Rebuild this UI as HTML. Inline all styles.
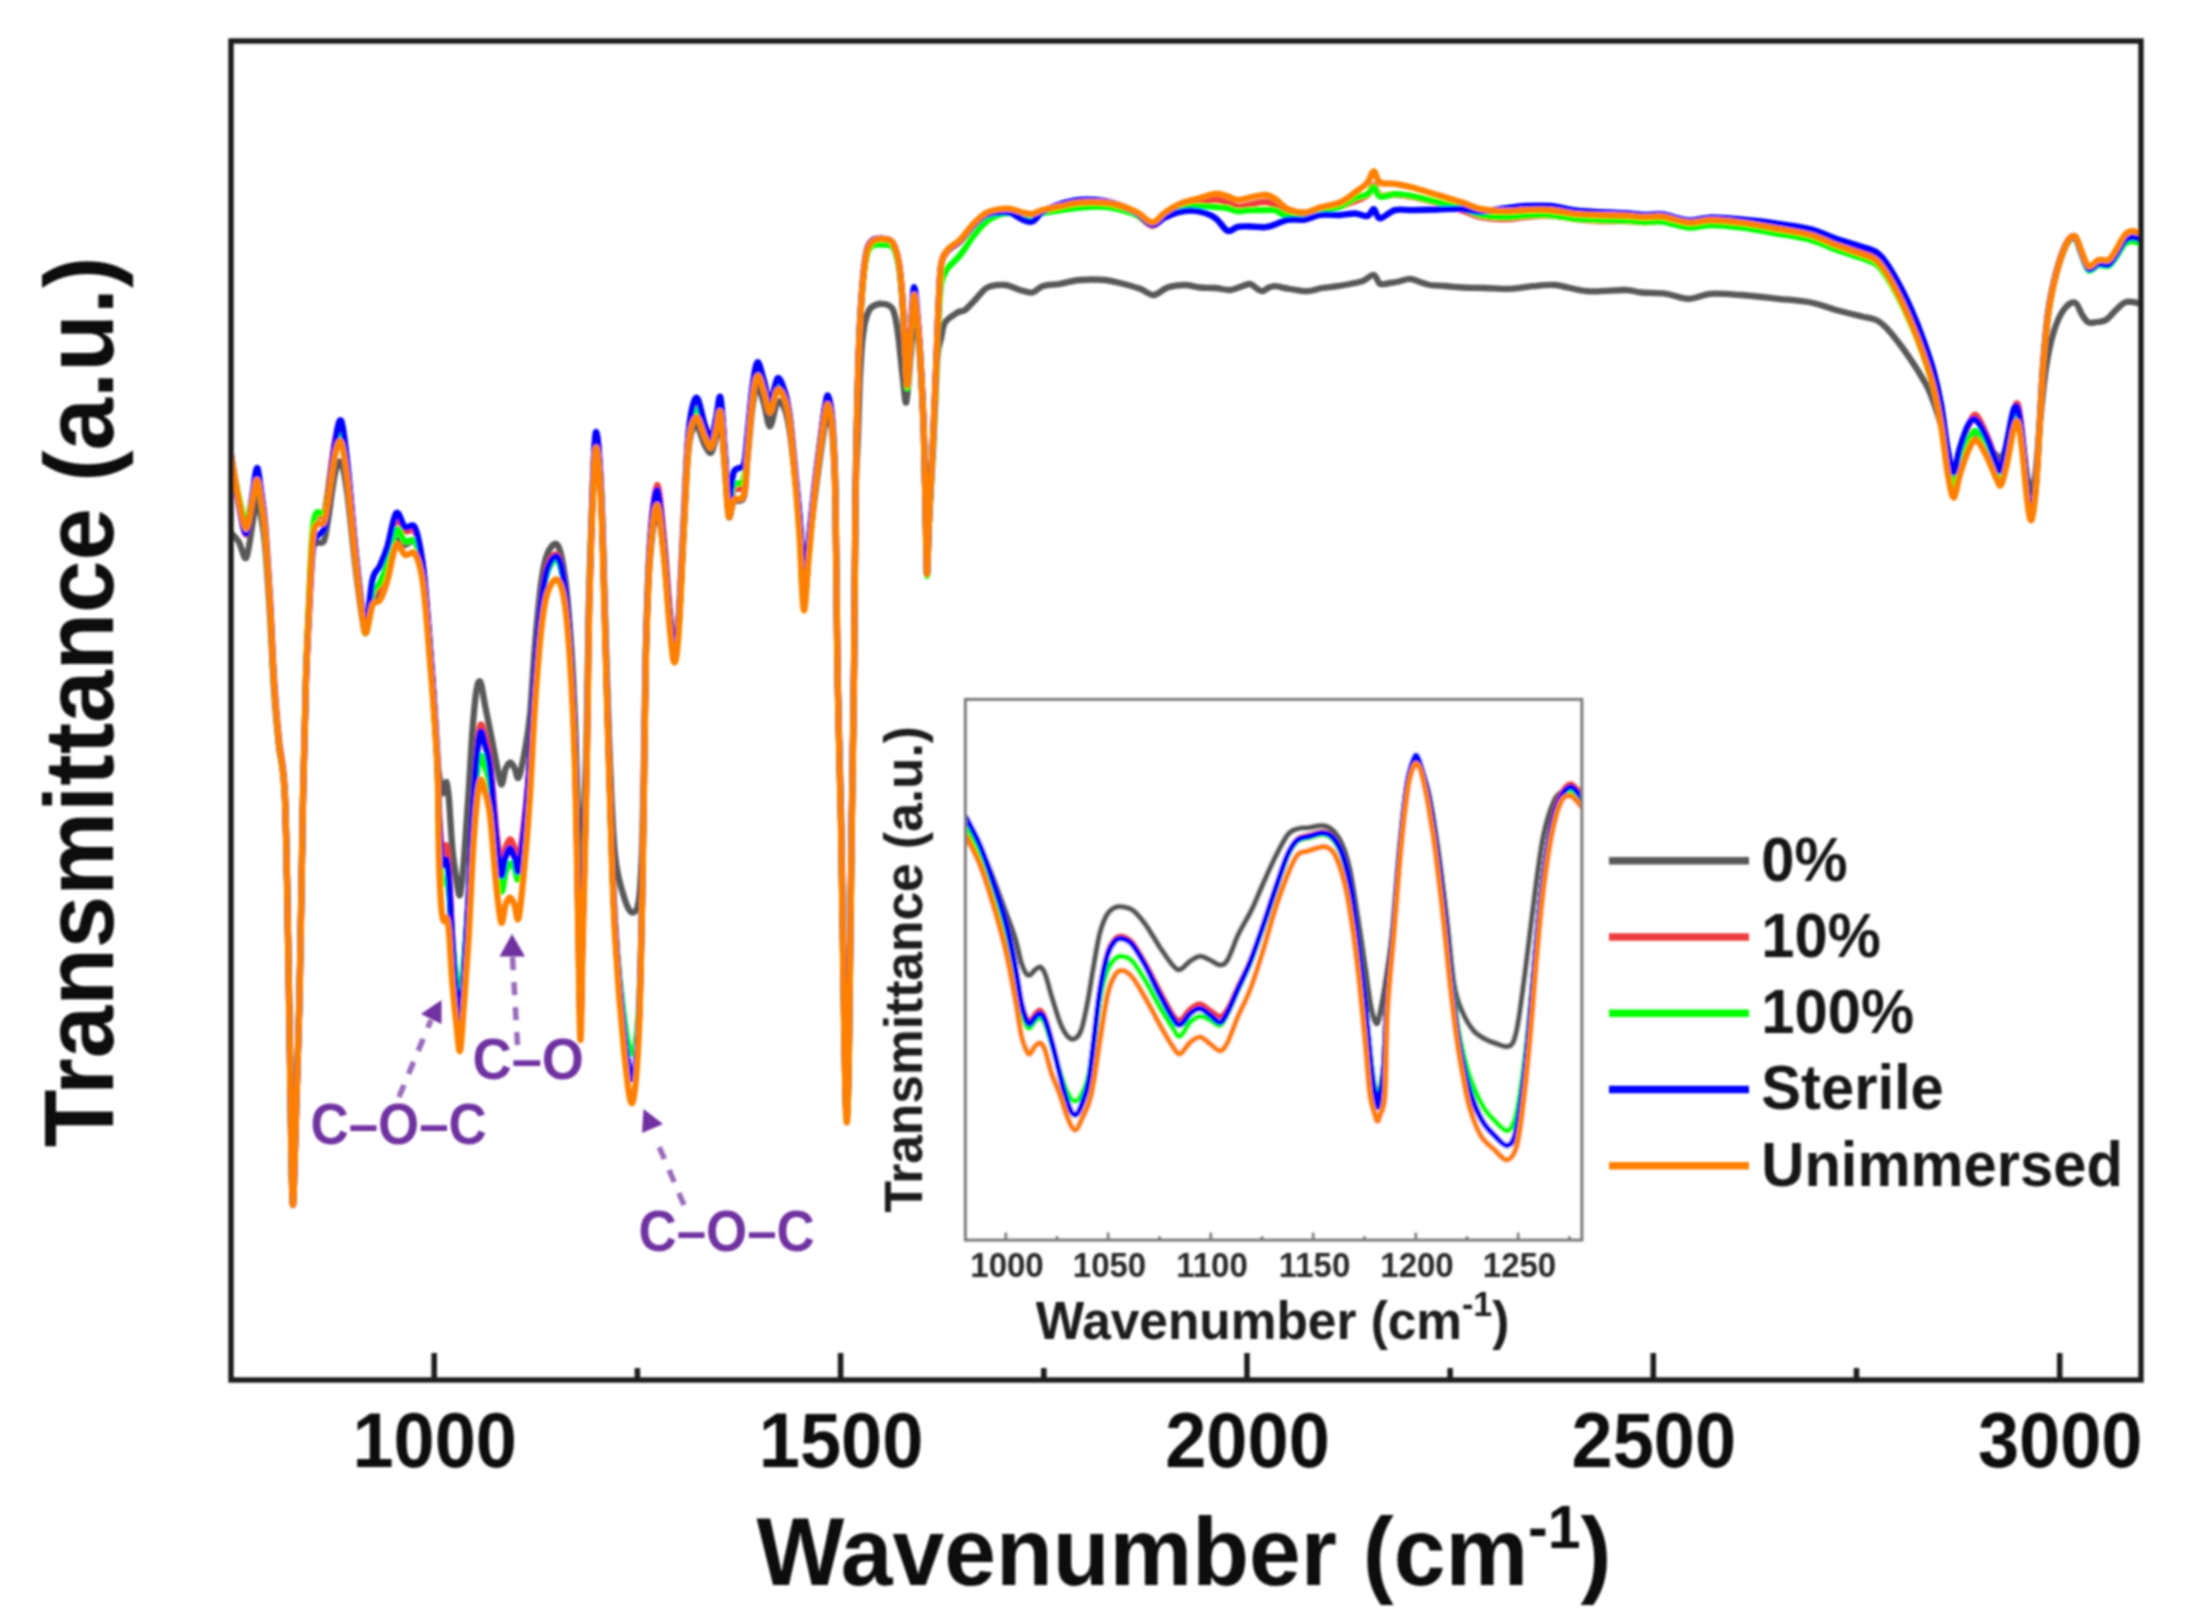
<!DOCTYPE html>
<html lang="en"><head><meta charset="utf-8"><title>FTIR spectra</title>
<style>html,body{margin:0;padding:0;background:#fff}svg{display:block}text{font-family:'Liberation Sans', Arial, Helvetica, sans-serif;font-weight:bold}</style></head><body>
<svg width="2188" height="1621" viewBox="0 0 2188 1621">
<defs><clipPath id="cm"><rect x="231" y="41" width="1910" height="1339"/></clipPath>
<clipPath id="ci"><rect x="965.5" y="699.5" width="616.25" height="540.5"/></clipPath>
<filter id="soft" x="-2%" y="-2%" width="104%" height="104%"><feGaussianBlur stdDeviation="1.0"/></filter></defs>
<rect width="2188" height="1621" fill="#fff"/>
<g filter="url(#soft)">
<g clip-path="url(#cm)" fill="none" stroke-width="6.3" stroke-linejoin="round" stroke-linecap="butt">
<path stroke="#595959" d="M231.0 533.0C232.3 534.5 236.2 537.6 238.8 541.8C241.3 545.9 244.0 560.8 246.2 557.8C248.5 554.7 250.7 533.4 252.5 523.4C254.3 513.4 255.6 499.2 257.0 498.0C258.4 496.8 259.7 508.3 261.0 516.0C262.3 523.7 263.5 527.5 265.0 544.0C266.5 560.5 268.5 591.2 270.0 615.0C271.5 638.8 272.3 665.4 273.8 687.0C275.2 708.6 276.9 726.4 278.8 744.5C280.6 762.6 283.3 756.7 285.0 795.3C286.7 834.0 287.7 920.0 288.8 976.3C289.8 1032.7 290.6 1099.6 291.3 1133.5C292.0 1167.4 292.4 1180.2 293.0 1180.0C293.6 1179.8 293.9 1163.7 295.0 1132.5C296.1 1101.3 298.2 1048.7 299.5 992.7C300.8 936.7 301.9 848.6 303.0 796.5C304.1 744.3 305.0 711.1 306.0 679.7C307.0 648.3 308.2 629.5 309.2 608.2C310.3 586.9 311.3 563.0 312.5 552.1C313.7 541.3 314.4 544.9 316.2 543.1C318.1 541.2 321.9 544.6 323.8 541.2C325.6 537.9 325.6 534.3 327.5 523.0C329.4 511.7 332.7 483.4 335.0 473.3C337.3 463.2 339.2 459.0 341.2 462.5C343.3 466.0 345.2 477.5 347.5 494.3C349.8 511.1 352.5 542.3 355.0 563.2C357.5 584.2 360.6 608.6 362.5 620.1C364.4 631.6 364.6 635.5 366.2 632.4C367.9 629.2 370.2 608.0 372.5 601.3C374.8 594.6 377.5 596.6 380.0 592.0C382.5 587.4 384.8 582.4 387.5 573.9C390.2 565.3 393.3 545.6 396.2 540.8C399.2 536.0 401.9 544.8 405.0 545.0C408.1 545.2 412.1 537.7 415.0 541.8C417.9 545.8 420.4 556.5 422.5 569.5C424.6 582.5 425.8 601.2 427.5 620.0C429.2 638.8 430.8 659.2 432.5 682.5C434.2 705.8 436.4 744.6 437.5 760.0C438.6 775.4 438.3 770.3 439.0 775.0C439.7 779.7 440.7 785.0 441.5 788.0C442.3 791.0 443.2 794.0 444.0 793.0C444.8 792.0 445.7 780.8 446.5 782.0C447.3 783.2 448.0 788.7 449.0 800.0C450.0 811.3 451.2 836.7 452.5 850.0C453.8 863.3 455.2 872.5 456.5 880.0C457.8 887.5 458.8 897.5 460.0 895.0C461.2 892.5 462.0 882.5 463.5 865.0C465.0 847.5 467.2 812.5 468.8 790.0C470.2 767.5 471.2 746.7 472.5 730.0C473.8 713.3 475.2 698.0 476.5 690.0C477.8 682.0 479.1 679.5 480.5 682.0C481.9 684.5 483.4 697.0 485.0 705.0C486.6 713.0 488.1 720.5 490.0 730.0C491.9 739.5 494.4 752.9 496.2 762.0C498.1 771.1 499.7 783.3 501.2 784.5C502.8 785.7 504.0 772.7 505.5 769.0C507.0 765.3 508.5 762.7 510.0 762.5C511.5 762.3 513.0 765.5 514.5 768.0C516.0 770.5 517.0 780.5 518.8 777.5C520.5 774.5 523.1 760.4 525.0 750.0C526.9 739.6 528.3 732.5 530.0 715.0C531.7 697.5 533.1 667.1 535.0 645.0C536.9 622.9 539.2 597.8 541.2 582.5C543.3 567.2 544.8 559.8 547.5 553.5C550.2 547.2 554.6 541.1 557.5 545.0C560.4 548.9 562.7 560.0 565.0 577.1C567.3 594.3 569.5 621.7 571.2 648.0C573.0 674.3 574.3 703.0 575.5 735.0C576.7 767.0 577.7 815.8 578.5 840.0C579.3 864.2 579.8 880.0 580.5 880.0C581.2 880.0 581.5 862.3 582.5 840.0C583.5 817.7 585.5 784.7 586.5 746.1C587.5 707.6 587.8 649.6 588.8 608.8C589.8 567.9 591.2 527.3 592.5 501.1C593.8 474.9 594.8 451.8 596.2 451.5C597.7 451.2 599.8 472.0 601.2 499.5C602.7 527.0 603.6 574.3 605.0 616.4C606.4 658.5 607.8 712.4 609.5 752.1C611.2 791.9 612.4 830.4 615.0 855.0C617.6 879.6 622.1 890.4 625.0 900.0C627.9 909.6 630.2 912.4 632.5 912.5C634.8 912.6 637.2 911.2 638.8 900.8C640.3 890.4 641.1 873.8 642.0 850.0C642.9 826.2 643.3 792.0 644.0 758.3C644.7 724.6 645.0 681.0 646.0 647.8C647.0 614.6 648.2 581.8 650.0 559.0C651.8 536.2 654.7 512.1 657.0 511.0C659.3 509.9 661.6 534.6 663.8 552.4C665.9 570.2 668.2 603.0 670.0 617.7C671.8 632.4 673.0 640.3 674.5 640.5C676.0 640.7 677.2 637.8 678.8 619.1C680.3 600.4 682.1 557.1 683.8 528.4C685.4 499.7 686.7 464.1 688.8 447.0C690.8 429.8 693.5 425.7 696.2 425.5C699.0 425.3 702.5 441.0 705.0 445.5C707.5 450.0 709.4 454.1 711.2 452.6C713.1 451.0 714.7 441.5 716.2 436.1C717.8 430.8 719.0 414.9 720.5 420.5C722.0 426.1 723.6 453.9 725.0 470.0C726.4 486.0 727.3 511.4 728.8 516.7C730.2 522.0 731.2 505.0 733.8 501.7C736.2 498.4 741.5 504.2 743.8 497.0C746.0 489.8 746.0 473.6 747.5 458.6C749.0 443.6 750.8 418.9 752.5 406.8C754.2 394.7 755.6 386.5 757.5 386.0C759.4 385.5 761.9 396.8 764.0 403.5C766.1 410.3 767.8 426.8 770.0 426.5C772.2 426.2 775.0 404.8 777.5 402.0C780.0 399.2 782.9 404.4 785.0 409.6C787.1 414.8 788.3 421.8 790.0 433.0C791.7 444.2 793.4 462.8 795.0 476.7C796.6 490.6 798.0 501.1 799.5 516.3C801.0 531.5 802.2 563.0 803.8 568.0C805.2 573.0 806.7 557.5 808.5 546.1C810.3 534.8 812.6 514.7 814.5 499.9C816.4 485.1 818.2 470.2 820.0 457.5C821.8 444.9 823.6 431.2 825.0 424.1C826.4 417.0 827.0 412.8 828.2 414.8C829.5 416.8 831.3 421.3 832.5 436.1C833.7 450.8 834.7 463.9 835.5 503.4C836.3 543.0 836.6 621.9 837.5 673.4C838.4 724.9 839.8 753.7 841.0 812.7C842.2 871.6 843.5 980.3 844.5 1026.9C845.5 1073.5 846.0 1092.2 846.8 1092.5C847.5 1092.8 848.2 1074.9 849.0 1028.5C849.8 982.0 850.9 873.2 851.8 813.9C852.6 754.5 853.4 724.2 854.0 672.3C854.6 620.5 854.9 541.7 855.5 503.0C856.1 464.3 857.1 459.7 857.8 440.0C858.5 420.3 859.0 400.0 859.6 385.0C860.2 370.0 860.9 359.0 861.5 350.0C862.1 341.0 862.7 336.5 863.5 331.0C864.3 325.5 865.2 320.9 866.5 317.0C867.8 313.1 868.6 309.7 871.2 307.5C873.9 305.3 879.0 303.5 882.5 303.8C886.0 304.0 890.0 304.4 892.5 308.8C895.0 313.1 895.8 319.0 897.5 330.0C899.2 341.0 901.0 362.9 902.5 375.0C904.0 387.1 905.0 404.6 906.2 402.5C907.5 400.4 908.7 376.9 910.0 362.5C911.3 348.1 912.9 320.6 914.2 316.0C915.6 311.4 917.0 326.8 918.0 335.0C919.0 343.2 919.5 348.3 920.5 365.0C921.5 381.7 922.9 409.2 923.8 435.0C924.6 460.8 925.2 497.8 925.8 520.0C926.3 542.2 926.5 568.0 927.0 568.0C927.5 568.0 928.0 539.7 929.0 520.0C930.0 500.3 931.9 470.8 933.0 450.0C934.1 429.2 934.8 410.8 935.5 395.0C936.2 379.2 936.5 364.6 937.5 355.0C938.5 345.4 940.0 342.9 941.2 337.5C942.5 332.1 942.3 326.7 945.0 322.5C947.7 318.3 954.2 314.6 957.5 312.5C960.8 310.4 962.1 312.1 965.0 310.0C967.9 307.9 971.2 303.8 975.0 300.0C978.8 296.2 982.5 290.0 987.5 287.5C992.5 285.0 999.6 284.6 1005.0 285.0C1010.4 285.4 1015.4 288.8 1020.0 290.0C1024.6 291.2 1028.8 293.1 1032.5 292.5C1036.2 291.9 1037.9 287.7 1042.5 286.2C1047.1 284.8 1053.8 284.8 1060.0 283.8C1066.2 282.7 1072.5 280.6 1080.0 280.0C1087.5 279.4 1097.9 279.4 1105.0 280.0C1112.1 280.6 1116.7 282.3 1122.5 283.8C1128.3 285.2 1134.8 286.9 1140.0 288.8C1145.2 290.6 1149.2 295.2 1153.8 295.0C1158.3 294.8 1162.3 289.2 1167.5 287.5C1172.7 285.8 1179.6 285.0 1185.0 285.0C1190.4 285.0 1195.0 287.0 1200.0 287.5C1205.0 288.0 1210.0 287.6 1215.0 288.0C1220.0 288.4 1225.8 290.2 1230.0 290.0C1234.2 289.8 1236.7 288.0 1240.0 287.0C1243.3 286.0 1247.3 283.8 1250.0 284.0C1252.7 284.2 1253.9 286.8 1256.0 288.0C1258.1 289.2 1260.5 291.2 1262.5 291.2C1264.5 291.2 1265.9 288.8 1268.0 288.0C1270.1 287.2 1271.3 286.1 1275.0 286.2C1278.7 286.4 1284.6 288.2 1290.0 289.0C1295.4 289.8 1302.2 291.4 1307.5 291.2C1312.8 291.1 1317.0 288.8 1322.0 288.0C1327.0 287.2 1332.8 286.9 1337.5 286.2C1342.2 285.6 1345.8 284.8 1350.0 284.0C1354.2 283.2 1358.5 282.8 1362.5 281.2C1366.5 279.8 1370.8 274.6 1373.8 275.0C1376.7 275.4 1377.3 282.4 1380.0 283.8C1382.7 285.1 1386.7 283.4 1390.0 283.0C1393.3 282.6 1396.7 282.0 1400.0 281.2C1403.3 280.5 1406.7 278.6 1410.0 278.8C1413.3 278.9 1416.7 281.0 1420.0 282.0C1423.3 283.0 1425.8 284.3 1430.0 285.0C1434.2 285.7 1439.6 285.6 1445.0 286.0C1450.4 286.4 1455.8 287.2 1462.5 287.5C1469.2 287.8 1477.1 287.8 1485.0 288.0C1492.9 288.2 1502.1 289.0 1510.0 288.8C1517.9 288.5 1525.0 286.9 1532.5 286.2C1540.0 285.6 1545.8 284.2 1555.0 285.0C1564.2 285.8 1575.8 290.4 1587.5 291.2C1599.2 292.1 1616.1 289.8 1625.0 290.0C1633.9 290.2 1634.2 291.9 1641.0 292.5C1647.8 293.1 1658.1 292.7 1666.0 293.8C1673.9 294.8 1681.0 298.8 1688.5 298.8C1696.0 298.8 1702.2 294.4 1711.0 293.8C1719.8 293.1 1729.8 294.2 1741.0 295.0C1752.2 295.8 1766.8 297.5 1778.5 298.8C1790.2 300.0 1801.4 300.6 1811.0 302.5C1820.6 304.4 1827.7 307.7 1836.0 310.0C1844.3 312.3 1854.3 314.6 1861.0 316.2C1867.7 317.9 1871.8 318.1 1876.0 320.0C1880.2 321.9 1882.2 323.8 1886.0 327.5C1889.8 331.2 1894.3 337.1 1898.5 342.5C1902.7 347.9 1906.8 353.8 1911.0 360.0C1915.2 366.2 1920.2 374.2 1923.5 380.0C1926.8 385.8 1928.1 387.5 1931.0 395.0C1933.9 402.5 1938.3 415.0 1941.0 425.0C1943.7 435.0 1945.2 447.2 1947.2 455.0C1949.3 462.8 1951.4 471.5 1953.5 472.0C1955.6 472.5 1957.5 463.0 1960.0 458.0C1962.5 453.0 1965.8 445.7 1968.5 442.0C1971.2 438.3 1973.1 435.5 1976.0 436.0C1978.9 436.5 1982.7 441.8 1986.0 445.0C1989.3 448.2 1993.5 452.8 1996.0 455.0C1998.5 457.2 1999.1 459.7 2001.0 458.0C2002.9 456.3 2005.2 450.0 2007.2 445.0C2009.3 440.0 2011.7 431.5 2013.5 428.0C2015.3 424.5 2016.5 422.0 2018.0 424.0C2019.5 426.0 2020.7 431.0 2022.2 440.0C2023.8 449.0 2025.7 469.3 2027.2 478.0C2028.8 486.7 2030.0 493.3 2031.5 492.0C2033.0 490.7 2034.6 481.2 2036.0 470.0C2037.4 458.8 2038.1 442.1 2039.8 425.0C2041.4 407.9 2043.7 382.9 2046.0 367.5C2048.3 352.1 2050.6 342.1 2053.5 332.5C2056.4 322.9 2060.0 315.0 2063.5 310.0C2067.0 305.0 2071.6 301.7 2074.8 302.5C2077.9 303.3 2080.0 311.7 2082.2 315.0C2084.5 318.3 2086.0 321.3 2088.5 322.5C2091.0 323.7 2094.1 322.4 2097.0 322.0C2099.9 321.6 2102.8 322.0 2106.0 320.0C2109.2 318.0 2112.9 312.9 2116.0 310.0C2119.1 307.1 2121.9 303.8 2124.8 302.5C2127.6 301.2 2130.3 301.8 2133.0 302.0C2135.7 302.2 2139.7 303.5 2141.0 303.8"/>
<path stroke="#f03c3c" d="M231.0 457.0C232.3 464.8 236.2 491.2 238.8 504.1C241.3 517.0 244.0 535.5 246.2 534.4C248.5 533.4 250.7 508.1 252.5 497.7C254.3 487.3 255.6 472.8 257.0 472.0C258.4 471.2 259.7 484.2 261.0 492.7C262.3 501.3 263.5 505.7 265.0 523.5C266.5 541.3 268.5 574.1 270.0 599.4C271.5 624.7 272.3 651.9 273.8 675.1C275.2 698.3 276.9 718.2 278.8 738.5C280.6 758.9 283.3 756.5 285.0 797.2C286.7 837.9 287.7 924.4 288.8 982.9C289.8 1041.4 290.6 1111.6 291.3 1148.4C292.0 1185.2 292.4 1203.6 293.0 1203.7C293.6 1203.8 293.9 1183.0 295.0 1149.1C296.1 1115.1 298.2 1058.3 299.5 999.9C300.8 941.5 301.9 852.5 303.0 798.8C304.1 745.1 305.0 710.6 306.0 677.7C307.0 644.8 308.2 624.7 309.2 601.4C310.3 578.1 311.3 551.4 312.5 537.6C313.7 523.8 314.4 522.7 316.2 518.7C318.1 514.6 321.9 517.3 323.8 513.2C325.6 509.2 325.6 506.2 327.5 494.3C329.4 482.3 332.7 452.6 335.0 441.3C337.3 430.1 339.2 422.3 341.2 426.6C343.3 431.0 345.2 447.4 347.5 467.4C349.8 487.3 352.5 522.1 355.0 546.3C357.5 570.5 360.6 598.8 362.5 612.7C364.4 626.5 364.6 631.9 366.2 629.3C367.9 626.7 370.2 604.2 372.5 597.0C374.8 589.8 377.5 592.4 380.0 586.3C382.5 580.2 384.8 571.7 387.5 560.5C390.2 549.3 393.3 524.0 396.2 519.1C399.2 514.1 401.9 528.8 405.0 530.9C408.1 533.0 412.1 526.5 415.0 531.8C417.9 537.0 420.4 548.7 422.5 562.7C424.6 576.7 425.8 596.0 427.5 615.8C429.2 635.6 430.8 657.0 432.5 681.4C434.2 705.8 436.4 740.2 437.5 762.0C438.6 783.8 438.3 798.0 439.0 812.0C439.7 826.0 440.7 839.5 441.5 846.0C442.3 852.5 443.2 851.0 444.0 851.0C444.8 851.0 445.7 842.8 446.5 846.0C447.3 849.2 448.0 854.2 449.0 870.0C450.0 885.8 451.2 920.2 452.5 941.0C453.8 961.8 455.2 980.8 456.5 995.0C457.8 1009.2 458.8 1028.4 460.0 1026.0C461.2 1023.6 462.0 1002.5 463.5 980.6C465.0 958.8 467.2 922.8 468.8 895.0C470.2 867.2 471.2 837.6 472.5 814.0C473.8 790.4 475.2 768.5 476.5 753.6C477.8 738.8 479.1 727.8 480.5 725.0C481.9 722.2 483.4 731.2 485.0 737.0C486.6 742.8 488.1 744.6 490.0 760.0C491.9 775.4 494.4 811.7 496.2 829.4C498.1 847.2 499.7 863.3 501.2 866.4C502.8 869.5 504.0 852.5 505.5 848.0C507.0 843.5 508.5 839.6 510.0 839.5C511.5 839.4 513.0 844.0 514.5 847.5C516.0 851.0 517.0 866.0 518.8 860.5C520.5 854.9 523.1 831.4 525.0 814.2C526.9 797.1 528.3 780.7 530.0 757.5C531.7 734.3 533.1 701.0 535.0 675.0C536.9 649.0 539.2 619.7 541.2 601.4C543.3 583.1 544.8 573.0 547.5 565.3C550.2 557.7 554.6 551.7 557.5 555.5C560.4 559.3 562.7 569.5 565.0 588.0C567.3 606.5 569.5 636.8 571.2 666.6C573.0 696.5 574.3 723.3 575.5 767.0C576.7 810.6 577.7 886.9 578.5 928.6C579.3 970.4 579.8 1017.4 580.5 1017.8C581.2 1018.1 581.5 971.8 582.5 930.8C583.5 889.8 585.5 823.5 586.5 771.8C587.5 720.0 587.8 666.3 588.8 620.1C589.8 573.9 591.2 525.6 592.5 494.5C593.8 463.4 594.8 434.0 596.2 433.6C597.7 433.2 599.8 461.4 601.2 492.1C602.7 522.8 603.6 570.9 605.0 617.9C606.4 664.9 607.8 722.7 609.5 773.8C611.2 825.0 612.4 880.4 615.0 925.0C617.6 969.6 622.1 1015.6 625.0 1041.2C627.9 1066.8 630.2 1081.4 632.5 1078.5C634.8 1075.6 637.2 1052.4 638.8 1023.5C640.3 994.6 641.1 945.9 642.0 905.0C642.9 864.1 643.3 821.2 644.0 778.0C644.7 734.8 645.0 685.3 646.0 646.0C647.0 606.7 648.2 568.8 650.0 542.0C651.8 515.2 654.7 485.8 657.0 485.0C659.3 484.2 661.6 515.6 663.8 537.0C665.9 558.5 668.2 595.5 670.0 613.9C671.8 632.4 673.0 647.4 674.5 647.8C676.0 648.2 677.2 638.2 678.8 616.6C680.3 595.0 682.1 548.9 683.8 518.1C685.4 487.4 686.7 450.6 688.8 432.1C690.8 413.7 693.5 408.3 696.2 407.5C699.0 406.7 702.5 422.5 705.0 427.5C707.5 432.5 709.4 438.8 711.2 437.5C713.1 436.2 714.7 425.8 716.2 420.0C717.8 414.2 719.0 396.2 720.5 402.5C722.0 408.8 723.6 440.2 725.0 457.5C726.4 474.8 727.3 500.8 728.8 506.2C730.2 511.7 731.2 493.5 733.8 490.0C736.2 486.5 741.5 492.5 743.8 485.0C746.0 477.5 746.0 460.8 747.5 445.0C749.0 429.2 750.8 403.2 752.5 390.0C754.2 376.8 755.6 367.3 757.5 366.1C759.4 364.8 761.9 376.4 764.0 382.7C766.1 389.0 767.8 404.0 770.0 403.9C772.2 403.8 775.0 384.0 777.5 382.2C780.0 380.3 782.9 386.9 785.0 392.9C787.1 399.0 788.3 405.3 790.0 418.5C791.7 431.6 793.4 454.9 795.0 472.0C796.6 489.1 798.0 501.6 799.5 521.0C801.0 540.4 802.2 584.1 803.8 588.4C805.2 592.8 806.7 563.6 808.5 547.0C810.3 530.4 812.6 506.0 814.5 488.7C816.4 471.4 818.2 456.6 820.0 443.0C821.8 429.4 823.6 415.0 825.0 407.4C826.4 399.7 827.0 394.5 828.2 397.0C829.5 399.6 831.3 406.7 832.5 422.7C833.7 438.7 834.7 452.2 835.5 493.2C836.3 534.1 836.6 614.2 837.5 668.5C838.4 722.8 839.8 756.3 841.0 819.0C842.2 881.7 843.5 994.8 844.5 1044.5C845.5 1094.3 846.0 1117.3 846.8 1117.4C847.5 1117.5 848.2 1094.7 849.0 1045.2C849.8 995.8 850.9 883.0 851.8 820.7C852.6 758.3 853.4 725.1 854.0 671.0C854.6 616.9 854.9 542.0 855.5 496.2C856.1 450.5 856.8 425.6 857.5 396.5C858.2 367.5 858.8 344.6 860.0 321.9C861.2 299.2 863.1 273.7 865.0 260.2C866.9 246.7 868.3 244.7 871.2 241.2C874.2 237.6 879.0 238.5 882.5 238.8C886.0 239.1 889.8 238.7 892.5 242.7C895.2 246.7 897.1 253.2 898.8 262.8C900.4 272.4 901.5 285.8 902.5 300.4C903.5 315.0 904.2 336.2 905.0 350.4C905.8 364.6 906.5 389.6 907.5 385.5C908.5 381.3 910.1 340.5 911.2 325.5C912.4 310.5 913.1 295.6 914.2 295.6C915.4 295.6 917.0 314.8 918.0 325.6C919.0 336.5 919.5 343.2 920.5 360.7C921.5 378.2 922.9 404.0 923.8 430.7C924.6 457.4 925.2 496.8 925.8 520.8C926.3 544.8 926.5 574.8 927.0 574.8C927.5 574.8 928.0 543.1 929.0 520.8C930.0 498.5 931.8 466.7 933.0 440.9C934.2 415.1 935.3 389.3 936.2 365.9C937.2 342.6 937.9 317.8 938.8 301.0C939.6 284.2 939.8 273.3 941.2 265.0C942.7 256.8 944.4 255.1 947.5 251.2C950.6 247.4 955.8 245.7 960.0 241.7C964.2 237.6 968.3 231.3 972.5 227.1C976.7 222.8 980.8 218.7 985.0 216.2C989.2 213.8 993.3 213.2 997.5 212.4C1001.7 211.6 1005.8 211.2 1010.0 211.7C1014.2 212.1 1018.8 214.5 1022.5 215.3C1026.2 216.1 1029.2 216.9 1032.5 216.4C1035.8 216.0 1037.9 213.9 1042.5 212.6C1047.1 211.3 1053.8 210.0 1060.0 208.7C1066.2 207.3 1072.5 205.4 1080.0 204.7C1087.5 204.0 1097.9 203.9 1105.0 204.6C1112.1 205.3 1117.1 207.0 1122.5 208.8C1127.9 210.6 1132.5 212.6 1137.5 215.4C1142.5 218.3 1147.9 225.7 1152.5 225.8C1157.1 225.9 1160.4 219.1 1165.0 216.1C1169.6 213.1 1174.6 209.8 1180.0 207.8C1185.4 205.7 1191.7 205.1 1197.5 203.8C1203.3 202.4 1210.0 199.9 1215.0 199.8C1220.0 199.6 1223.8 201.6 1227.5 202.8C1231.2 203.9 1233.8 206.6 1237.5 206.9C1241.2 207.2 1245.4 205.3 1250.0 204.5C1254.6 203.7 1260.8 201.9 1265.0 202.0C1269.2 202.1 1271.2 203.1 1275.0 205.0C1278.8 206.9 1282.5 211.2 1287.5 213.1C1292.5 215.0 1299.6 216.8 1305.0 216.5C1310.4 216.2 1314.2 213.2 1320.0 211.5C1325.8 209.8 1334.2 208.2 1340.0 206.5C1345.8 204.8 1350.4 203.1 1355.0 201.2C1359.6 199.3 1364.4 197.8 1367.5 195.1C1370.6 192.4 1371.7 185.0 1373.8 185.0C1375.8 185.0 1376.5 193.8 1380.0 195.4C1383.5 196.9 1389.6 194.2 1395.0 194.5C1400.4 194.7 1405.4 195.4 1412.5 196.9C1419.6 198.3 1429.2 200.9 1437.5 203.1C1445.8 205.4 1455.4 208.2 1462.5 210.5C1469.6 212.8 1472.9 215.3 1480.0 216.8C1487.1 218.2 1497.5 219.2 1505.0 219.2C1512.5 219.3 1517.5 217.7 1525.0 217.1C1532.5 216.5 1541.7 215.3 1550.0 215.6C1558.3 215.9 1566.7 218.2 1575.0 219.1C1583.3 220.0 1591.7 220.7 1600.0 221.0C1608.3 221.3 1617.5 220.8 1625.0 221.0C1632.5 221.2 1638.8 222.1 1645.0 222.1C1651.2 222.1 1655.2 220.5 1662.5 221.2C1669.8 222.0 1680.4 226.3 1688.5 226.7C1696.6 227.2 1702.2 224.0 1711.0 223.8C1719.8 223.6 1729.8 224.4 1741.0 225.7C1752.2 226.9 1766.8 229.4 1778.5 231.2C1790.2 233.0 1801.4 234.1 1811.0 236.3C1820.6 238.6 1827.7 242.2 1836.0 244.8C1844.3 247.5 1854.3 250.0 1861.0 252.1C1867.7 254.2 1871.8 254.6 1876.0 257.4C1880.2 260.3 1882.2 263.7 1886.0 269.3C1889.8 274.9 1894.3 283.5 1898.5 291.1C1902.7 298.7 1906.8 306.1 1911.0 314.8C1915.2 323.4 1919.8 333.5 1923.5 343.0C1927.2 352.6 1930.6 361.4 1933.5 372.1C1936.4 382.8 1938.7 394.1 1941.0 407.1C1943.3 420.0 1945.2 438.6 1947.2 450.0C1949.3 461.3 1951.4 475.1 1953.5 475.4C1955.6 475.8 1957.2 460.4 1959.8 452.1C1962.2 443.9 1965.8 432.2 1968.5 426.0C1971.2 419.8 1973.1 413.7 1976.0 415.0C1978.9 416.3 1982.7 426.2 1986.0 433.6C1989.3 441.1 1993.5 453.8 1996.0 459.7C1998.5 465.6 1999.1 471.3 2001.0 469.0C2002.9 466.7 2005.2 455.2 2007.2 445.8C2009.3 436.4 2011.7 419.4 2013.5 412.5C2015.3 405.7 2016.5 400.5 2018.0 404.5C2019.5 408.5 2020.7 421.8 2022.2 436.2C2023.8 450.7 2025.7 478.1 2027.2 491.2C2028.8 504.4 2030.0 516.4 2031.5 515.1C2033.0 513.7 2034.6 498.7 2036.0 483.1C2037.4 467.4 2038.5 441.7 2039.8 421.0C2041.0 400.3 2042.0 377.5 2043.5 358.9C2045.0 340.3 2046.4 323.8 2048.5 309.5C2050.6 295.1 2053.1 283.8 2056.0 272.8C2058.9 261.9 2062.9 250.1 2066.0 244.0C2069.1 237.9 2072.2 235.1 2074.8 236.2C2077.2 237.3 2078.7 245.4 2081.0 250.7C2083.3 256.0 2085.6 265.9 2088.5 267.9C2091.4 269.9 2095.2 263.5 2098.5 262.8C2101.8 262.2 2105.6 265.4 2108.5 264.1C2111.4 262.7 2113.3 258.8 2116.0 255.0C2118.7 251.1 2122.0 243.8 2124.8 241.0C2127.5 238.2 2129.5 238.1 2132.2 238.2C2135.0 238.3 2139.5 241.2 2141.0 241.8"/>
<path stroke="#00ff00" d="M231.0 458.0C232.3 464.6 236.2 486.8 238.8 497.3C241.3 507.8 244.0 521.0 246.2 520.9C248.5 520.8 250.7 503.5 252.5 496.7C254.3 489.9 255.6 479.4 257.0 480.0C258.4 480.6 259.7 491.9 261.0 500.3C262.3 508.8 263.5 513.1 265.0 530.7C266.5 548.3 268.5 581.0 270.0 606.1C271.5 631.3 272.3 658.4 273.8 681.5C275.2 704.5 276.9 724.5 278.8 744.4C280.6 764.3 283.3 760.8 285.0 800.9C286.7 841.0 287.7 927.0 288.8 985.1C289.8 1043.2 290.6 1113.0 291.3 1149.5C292.0 1186.1 292.4 1204.3 293.0 1204.2C293.6 1204.0 293.9 1183.1 295.0 1148.7C296.1 1114.3 298.2 1056.4 299.5 997.8C300.8 939.1 301.9 850.8 303.0 797.0C304.1 743.2 305.0 708.1 306.0 674.9C307.0 641.7 308.2 621.3 309.2 597.6C310.3 574.0 311.3 546.9 312.5 532.9C313.7 518.8 314.4 516.4 316.2 513.1C318.1 509.9 321.9 515.3 323.8 513.2C325.6 511.1 325.6 511.3 327.5 500.4C329.4 489.5 332.7 459.1 335.0 447.8C337.3 436.5 339.2 428.4 341.2 432.6C343.3 436.8 345.2 453.1 347.5 472.8C349.8 492.5 352.5 527.1 355.0 551.0C357.5 574.9 360.6 602.7 362.5 616.2C364.4 629.7 364.6 635.9 366.2 632.0C367.9 628.2 370.2 601.5 372.5 593.3C374.8 585.1 377.5 587.5 380.0 582.6C382.5 577.7 384.8 572.5 387.5 563.7C390.2 555.0 393.3 533.8 396.2 530.0C399.2 526.3 401.9 539.5 405.0 541.4C408.1 543.4 412.1 536.7 415.0 541.8C417.9 546.8 420.4 557.8 422.5 571.5C424.6 585.2 425.8 604.5 427.5 623.8C429.2 643.2 430.8 664.0 432.5 687.5C434.2 711.0 436.4 739.9 437.5 765.0C438.6 790.1 438.3 819.5 439.0 838.0C439.7 856.5 440.7 868.5 441.5 876.0C442.3 883.5 443.2 882.3 444.0 883.0C444.8 883.7 445.7 878.2 446.5 880.0C447.3 881.8 448.0 883.5 449.0 894.0C450.0 904.5 451.2 928.7 452.5 943.0C453.8 957.3 455.2 969.8 456.5 980.0C457.8 990.2 458.8 1006.1 460.0 1004.0C461.2 1001.9 462.0 984.5 463.5 967.4C465.0 950.2 467.2 923.9 468.8 901.0C470.2 878.1 471.2 850.6 472.5 830.2C473.8 809.8 475.2 791.2 476.5 778.8C477.8 766.5 479.1 758.0 480.5 756.0C481.9 754.0 483.4 761.2 485.0 766.6C486.6 771.9 488.1 773.1 490.0 788.0C491.9 802.9 494.4 838.5 496.2 855.7C498.1 873.0 499.7 888.6 501.2 891.4C502.8 894.2 504.0 877.2 505.5 872.5C507.0 867.8 508.5 864.2 510.0 863.5C511.5 862.8 513.0 865.6 514.5 868.0C516.0 870.4 517.0 884.4 518.8 877.7C520.5 870.9 523.1 845.8 525.0 827.5C526.9 809.2 528.3 792.1 530.0 768.0C531.7 743.9 533.1 709.6 535.0 683.0C536.9 656.4 539.2 627.1 541.2 608.6C543.3 590.0 544.8 579.7 547.5 571.6C550.2 563.6 554.6 557.1 557.5 560.4C560.4 563.6 562.7 573.4 565.0 591.2C567.3 608.9 569.5 638.5 571.2 666.9C573.0 695.2 574.3 719.3 575.5 761.2C576.7 803.2 577.7 877.9 578.5 918.8C579.3 959.6 579.8 1005.9 580.5 1006.4C581.2 1006.9 581.5 961.5 582.5 921.8C583.5 882.0 585.5 818.1 586.5 767.5C587.5 717.0 587.8 663.7 588.8 618.6C589.8 573.5 591.2 526.9 592.5 497.0C593.8 467.1 594.8 439.6 596.2 439.5C597.7 439.4 599.8 466.2 601.2 496.4C602.7 526.7 603.6 574.5 605.0 621.1C606.4 667.6 607.8 724.9 609.5 775.6C611.2 826.2 612.4 883.4 615.0 925.0C617.6 966.6 622.1 1003.6 625.0 1025.0C627.9 1046.4 630.2 1055.8 632.5 1053.2C634.8 1050.7 637.2 1034.4 638.8 1009.7C640.3 985.0 641.1 943.3 642.0 905.0C642.9 866.7 643.3 822.2 644.0 779.6C644.7 737.0 645.0 687.7 646.0 649.2C647.0 610.7 648.2 573.8 650.0 548.4C651.8 523.0 654.7 497.0 657.0 497.0C659.3 497.0 661.6 527.2 663.8 548.5C665.9 569.8 668.2 606.5 670.0 624.8C671.8 643.1 673.0 658.0 674.5 658.3C676.0 658.6 677.2 648.8 678.8 626.7C680.3 604.6 682.1 557.5 683.8 525.8C685.4 494.2 686.7 456.2 688.8 436.8C690.8 417.4 693.5 410.7 696.2 409.5C699.0 408.3 702.5 424.5 705.0 429.5C707.5 434.5 709.4 440.8 711.2 439.5C713.1 438.2 714.7 427.9 716.2 422.0C717.8 416.1 719.0 398.4 720.5 404.2C722.0 410.1 723.6 440.4 725.0 457.0C726.4 473.6 727.3 499.2 728.8 503.9C730.2 508.6 731.2 489.2 733.8 485.1C736.2 481.1 741.5 486.8 743.8 479.6C746.0 472.5 746.0 457.1 747.5 442.3C749.0 427.5 750.8 402.9 752.5 390.8C754.2 378.8 755.6 370.8 757.5 370.0C759.4 369.3 761.9 380.3 764.0 386.5C766.1 392.7 767.8 407.6 770.0 407.4C772.2 407.2 775.0 387.3 777.5 385.4C780.0 383.5 782.9 390.0 785.0 396.0C787.1 401.9 788.3 408.2 790.0 421.3C791.7 434.4 793.4 456.2 795.0 474.7C796.6 493.1 798.0 509.9 799.5 532.0C801.0 554.0 802.2 602.7 803.8 606.8C805.2 610.9 806.7 575.9 808.5 556.6C810.3 537.4 812.6 509.8 814.5 491.4C816.4 473.0 818.2 459.5 820.0 446.1C821.8 432.7 823.6 418.5 825.0 410.9C826.4 403.4 827.0 398.3 828.2 400.8C829.5 403.2 831.3 409.8 832.5 425.6C833.7 441.4 834.7 454.7 835.5 495.5C836.3 536.3 836.6 616.2 837.5 670.4C838.4 724.5 839.8 757.8 841.0 820.2C842.2 882.7 843.5 995.5 844.5 1045.1C845.5 1094.7 846.0 1117.6 846.8 1117.8C847.5 1118.0 848.2 1095.4 849.0 1046.1C849.8 996.9 850.9 884.3 851.8 822.2C852.6 760.0 853.4 726.9 854.0 673.0C854.6 619.1 854.9 544.2 855.5 498.6C856.1 452.9 856.8 428.2 857.5 399.3C858.2 370.4 858.8 347.7 860.0 325.2C861.2 302.8 863.1 277.7 865.0 264.6C866.9 251.5 868.3 250.0 871.2 246.7C874.2 243.4 879.0 244.6 882.5 244.7C886.0 244.7 889.8 243.3 892.5 246.9C895.2 250.5 897.1 256.7 898.8 266.1C900.4 275.5 901.5 288.7 902.5 303.2C903.5 317.7 904.2 338.9 905.0 352.9C905.8 367.0 906.5 392.0 907.5 387.7C908.5 383.4 910.1 342.4 911.2 327.3C912.4 312.2 913.1 297.0 914.2 297.0C915.4 297.0 917.0 316.2 918.0 327.0C919.0 337.8 919.5 344.5 920.5 362.0C921.5 379.5 922.9 405.3 923.8 432.0C924.6 458.7 925.2 498.0 925.8 522.0C926.3 546.0 926.5 576.0 927.0 576.0C927.5 576.0 928.0 543.6 929.0 522.0C930.0 500.4 931.8 470.8 933.0 446.5C934.2 422.2 935.3 398.3 936.2 376.4C937.2 354.5 937.9 330.7 938.8 315.1C939.6 299.5 939.8 290.6 941.2 282.9C942.7 275.1 944.4 273.2 947.5 268.6C950.6 264.0 955.8 260.6 960.0 255.3C964.2 250.1 968.3 242.6 972.5 237.1C976.7 231.7 980.8 226.4 985.0 222.8C989.2 219.1 993.3 216.8 997.5 215.2C1001.7 213.6 1005.8 213.0 1010.0 213.2C1014.2 213.5 1018.8 215.7 1022.5 216.4C1026.2 217.0 1029.2 217.7 1032.5 217.1C1035.8 216.6 1037.9 214.3 1042.5 213.1C1047.1 212.0 1053.8 211.2 1060.0 210.2C1066.2 209.3 1072.5 208.1 1080.0 207.5C1087.5 206.9 1097.9 206.4 1105.0 206.9C1112.1 207.3 1117.1 208.7 1122.5 210.1C1127.9 211.5 1132.5 213.0 1137.5 215.4C1142.5 217.8 1147.9 224.5 1152.5 224.5C1157.1 224.5 1160.4 218.2 1165.0 215.4C1169.6 212.6 1174.6 209.3 1180.0 207.8C1185.4 206.2 1191.7 206.4 1197.5 206.2C1203.3 206.1 1210.0 206.4 1215.0 206.8C1220.0 207.1 1223.8 207.5 1227.5 208.2C1231.2 209.0 1233.8 210.9 1237.5 211.2C1241.2 211.5 1245.4 210.3 1250.0 210.1C1254.6 209.9 1260.8 210.0 1265.0 210.0C1269.2 210.0 1271.2 209.2 1275.0 210.2C1278.8 211.3 1282.5 215.2 1287.5 216.2C1292.5 217.3 1299.6 217.4 1305.0 216.5C1310.4 215.6 1314.2 212.5 1320.0 210.8C1325.8 209.2 1334.2 208.6 1340.0 206.5C1345.8 204.4 1350.4 200.0 1355.0 198.0C1359.6 196.0 1364.4 196.1 1367.5 194.3C1370.6 192.4 1371.7 186.7 1373.8 187.0C1375.8 187.4 1376.5 195.3 1380.0 196.5C1383.5 197.7 1389.6 194.3 1395.0 194.2C1400.4 194.2 1405.4 194.9 1412.5 196.2C1419.6 197.6 1429.2 200.1 1437.5 202.1C1445.8 204.2 1455.4 206.4 1462.5 208.5C1469.6 210.6 1472.9 213.3 1480.0 214.8C1487.1 216.2 1497.5 217.0 1505.0 217.2C1512.5 217.3 1517.5 215.9 1525.0 215.5C1532.5 215.1 1541.7 214.5 1550.0 215.0C1558.3 215.5 1566.7 217.9 1575.0 218.8C1583.3 219.6 1591.7 219.7 1600.0 220.0C1608.3 220.3 1617.5 220.2 1625.0 220.5C1632.5 220.8 1638.8 221.8 1645.0 222.0C1651.2 222.2 1655.2 220.6 1662.5 221.5C1669.8 222.4 1680.4 226.9 1688.5 227.5C1696.6 228.1 1702.2 225.0 1711.0 225.0C1719.8 225.0 1729.8 226.0 1741.0 227.5C1752.2 229.0 1766.8 231.7 1778.5 233.8C1790.2 235.8 1801.4 237.2 1811.0 239.9C1820.6 242.5 1827.7 246.5 1836.0 249.5C1844.3 252.5 1854.3 255.5 1861.0 257.9C1867.7 260.4 1871.8 261.0 1876.0 264.0C1880.2 267.0 1882.2 270.2 1886.0 275.8C1889.8 281.4 1894.3 289.4 1898.5 297.5C1902.7 305.5 1906.8 314.4 1911.0 324.1C1915.2 333.8 1919.8 345.2 1923.5 355.8C1927.2 366.4 1930.6 376.6 1933.5 387.6C1936.4 398.6 1938.7 409.1 1941.0 421.7C1943.3 434.3 1945.2 452.2 1947.2 463.2C1949.3 474.2 1951.4 487.2 1953.5 487.5C1955.6 487.9 1957.2 473.1 1959.8 465.3C1962.2 457.5 1965.8 446.4 1968.5 440.7C1971.2 435.0 1973.1 430.0 1976.0 431.0C1978.9 432.0 1982.7 440.0 1986.0 446.4C1989.3 452.8 1993.5 464.2 1996.0 469.3C1998.5 474.4 1999.1 479.3 2001.0 477.0C2002.9 474.7 2005.2 464.2 2007.2 455.2C2009.3 446.3 2011.7 429.9 2013.5 423.5C2015.3 417.0 2016.5 412.9 2018.0 416.5C2019.5 420.1 2020.7 431.7 2022.2 445.0C2023.8 458.3 2025.7 484.1 2027.2 496.1C2028.8 508.1 2030.0 518.9 2031.5 517.1C2033.0 515.2 2034.6 500.7 2036.0 485.0C2037.4 469.3 2038.5 443.6 2039.8 422.9C2041.0 402.2 2042.0 379.4 2043.5 360.8C2045.0 342.2 2046.4 325.7 2048.5 311.3C2050.6 296.9 2053.1 285.5 2056.0 274.6C2058.9 263.7 2062.9 251.9 2066.0 245.9C2069.1 239.8 2072.2 237.2 2074.8 238.4C2077.2 239.5 2078.7 247.7 2081.0 253.0C2083.3 258.3 2085.6 268.3 2088.5 270.3C2091.4 272.3 2095.2 265.7 2098.5 265.0C2101.8 264.2 2105.6 267.2 2108.5 265.9C2111.4 264.6 2113.3 260.8 2116.0 257.1C2118.7 253.4 2122.0 246.3 2124.8 243.7C2127.5 241.0 2129.5 241.2 2132.2 241.2C2135.0 241.3 2139.5 243.3 2141.0 243.8"/>
<path stroke="#0000ff" d="M231.0 455.0C232.3 462.9 236.2 489.5 238.8 502.6C241.3 515.6 244.0 534.6 246.2 533.4C248.5 532.1 250.7 505.8 252.5 495.0C254.3 484.1 255.6 468.5 257.0 468.0C258.4 467.5 259.7 482.3 261.0 492.0C262.3 501.7 263.5 507.6 265.0 526.0C266.5 544.4 268.5 576.9 270.0 602.3C271.5 627.7 272.3 655.0 273.8 678.3C275.2 701.6 276.9 721.9 278.8 742.2C280.6 762.4 283.3 759.5 285.0 800.0C286.7 840.5 287.7 926.7 288.8 985.0C289.8 1043.3 290.6 1113.3 291.3 1150.0C292.0 1186.7 292.4 1205.0 293.0 1205.0C293.6 1205.0 293.9 1184.2 295.0 1150.0C296.1 1115.8 298.2 1058.3 299.5 1000.0C300.8 941.7 301.9 853.2 303.0 800.0C304.1 746.8 305.0 712.8 306.0 681.1C307.0 649.3 308.2 631.3 309.2 609.6C310.3 587.8 311.3 562.7 312.5 550.6C313.7 538.5 314.4 540.7 316.2 537.1C318.1 533.6 321.9 534.4 323.8 529.3C325.6 524.2 325.6 520.7 327.5 506.4C329.4 492.1 332.7 457.7 335.0 443.4C337.3 429.1 339.2 417.0 341.2 420.8C343.3 424.6 345.2 445.1 347.5 466.3C349.8 487.4 352.5 523.5 355.0 547.9C357.5 572.2 360.6 599.2 362.5 612.5C364.4 625.8 364.6 633.1 366.2 627.7C367.9 622.2 370.2 590.2 372.5 579.9C374.8 569.5 377.5 571.3 380.0 565.7C382.5 560.1 384.8 555.1 387.5 546.3C390.2 537.5 393.3 516.3 396.2 513.1C399.2 509.9 401.9 524.6 405.0 527.0C408.1 529.4 412.1 521.8 415.0 527.8C417.9 533.8 420.4 548.1 422.5 563.0C424.6 577.9 425.8 597.4 427.5 617.2C429.2 637.1 430.8 658.0 432.5 682.1C434.2 706.2 436.4 739.0 437.5 762.0C438.6 785.0 438.3 804.0 439.0 820.0C439.7 836.0 440.7 850.5 441.5 858.0C442.3 865.5 443.2 864.7 444.0 865.0C444.8 865.3 445.7 857.5 446.5 860.0C447.3 862.5 448.0 865.8 449.0 880.0C450.0 894.2 451.2 925.8 452.5 945.0C453.8 964.2 455.2 981.5 456.5 995.0C457.8 1008.5 458.8 1028.4 460.0 1026.0C461.2 1023.6 462.0 1002.1 463.5 980.6C465.0 959.1 467.2 924.1 468.8 897.0C470.2 869.9 471.2 840.8 472.5 817.8C473.8 794.8 475.2 773.5 476.5 759.2C477.8 744.9 479.1 734.5 480.5 732.0C481.9 729.5 483.4 738.5 485.0 744.5C486.6 750.5 488.1 752.4 490.0 768.0C491.9 783.6 494.4 820.1 496.2 838.0C498.1 855.9 499.7 872.3 501.2 875.4C502.8 878.6 504.0 861.5 505.5 857.0C507.0 852.5 508.5 848.5 510.0 848.5C511.5 848.5 513.0 853.3 514.5 857.0C516.0 860.7 517.0 876.4 518.8 870.4C520.5 864.5 523.1 839.3 525.0 821.2C526.9 803.2 528.3 786.0 530.0 762.0C531.7 738.0 533.1 703.2 535.0 677.0C536.9 650.8 539.2 622.5 541.2 604.5C543.3 586.5 544.8 576.6 547.5 568.7C550.2 560.9 554.6 554.1 557.5 557.4C560.4 560.8 562.7 570.6 565.0 588.8C567.3 607.0 569.5 636.9 571.2 666.6C573.0 696.3 574.3 723.3 575.5 767.0C576.7 810.6 577.7 886.9 578.5 928.6C579.3 970.4 579.8 1017.4 580.5 1017.8C581.2 1018.1 581.5 971.8 582.5 930.8C583.5 889.8 585.5 823.5 586.5 771.8C587.5 720.0 587.8 666.5 588.8 620.1C589.8 573.8 591.2 525.0 592.5 493.7C593.8 462.3 594.8 431.4 596.2 431.9C597.7 432.3 599.8 464.6 601.2 496.5C602.7 528.4 603.6 576.6 605.0 623.3C606.4 670.1 607.8 726.6 609.5 776.8C611.2 827.1 612.4 881.1 615.0 925.0C617.6 968.9 622.1 1014.4 625.0 1040.0C627.9 1065.6 630.2 1081.4 632.5 1078.3C634.8 1075.3 637.2 1050.8 638.8 1021.9C640.3 993.0 641.1 945.4 642.0 905.0C642.9 864.6 643.3 822.0 644.0 779.2C644.7 736.5 645.0 687.2 646.0 648.5C647.0 609.8 648.2 573.4 650.0 547.0C651.8 520.6 654.7 489.9 657.0 490.0C659.3 490.1 661.6 525.6 663.8 547.6C665.9 569.6 668.2 604.3 670.0 621.8C671.8 639.3 673.0 652.7 674.5 652.7C676.0 652.7 677.2 643.2 678.8 621.7C680.3 600.2 682.1 555.2 683.8 523.5C685.4 491.9 686.7 452.7 688.8 431.7C690.8 410.8 693.5 398.8 696.2 397.7C699.0 396.7 702.5 418.6 705.0 425.5C707.5 432.4 709.4 440.6 711.2 439.3C713.1 438.0 714.7 424.8 716.2 417.9C717.8 411.0 719.0 391.5 720.5 397.8C722.0 404.1 723.6 437.9 725.0 455.6C726.4 473.3 727.3 501.2 728.8 503.9C730.2 506.6 731.2 478.5 733.8 472.0C736.2 465.5 741.5 470.9 743.8 464.8C746.0 458.8 746.0 448.4 747.5 435.5C749.0 422.6 750.8 399.5 752.5 387.3C754.2 375.1 755.6 363.2 757.5 362.2C759.4 361.2 761.9 374.2 764.0 381.2C766.1 388.3 767.8 405.0 770.0 404.5C772.2 404.0 775.0 380.2 777.5 378.3C780.0 376.4 782.9 385.8 785.0 392.9C787.1 400.0 788.3 408.2 790.0 421.0C791.7 433.8 793.4 453.6 795.0 469.7C796.6 485.9 798.0 499.4 799.5 517.9C801.0 536.4 802.2 576.5 803.8 580.7C805.2 584.9 806.7 558.5 808.5 542.9C810.3 527.2 812.6 503.3 814.5 486.9C816.4 470.6 818.2 458.2 820.0 445.0C821.8 431.8 823.6 415.6 825.0 407.5C826.4 399.4 827.0 393.3 828.2 396.2C829.5 399.1 831.3 408.0 832.5 424.9C833.7 441.8 834.7 456.4 835.5 497.6C836.3 538.7 836.6 618.3 837.5 671.9C838.4 725.5 839.8 757.7 841.0 819.4C842.2 881.0 843.5 992.9 844.5 1041.8C845.5 1090.7 846.0 1112.7 846.8 1112.7C847.5 1112.6 848.2 1090.5 849.0 1041.5C849.8 992.4 850.9 880.3 851.8 818.5C852.6 756.6 853.4 723.8 854.0 670.1C854.6 616.4 854.9 541.6 855.5 496.2C856.1 450.8 856.8 426.5 857.5 397.6C858.2 368.8 858.8 345.9 860.0 323.2C861.2 300.4 863.1 274.7 865.0 261.1C866.9 247.6 868.3 245.4 871.2 241.7C874.2 238.0 879.0 238.6 882.5 238.8C886.0 238.9 889.8 238.5 892.5 242.5C895.2 246.5 897.1 252.9 898.8 262.5C900.4 272.1 901.5 285.4 902.5 300.0C903.5 314.6 904.2 336.2 905.0 350.0C905.8 363.8 906.5 387.9 907.5 382.8C908.5 377.7 910.1 335.4 911.2 319.4C912.4 303.5 913.1 287.0 914.2 287.2C915.4 287.5 917.0 309.1 918.0 321.0C919.0 332.9 919.5 340.3 920.5 358.5C921.5 376.7 922.9 403.1 923.8 430.0C924.6 456.9 925.2 496.0 925.8 520.0C926.3 544.0 926.5 574.0 927.0 574.0C927.5 574.0 928.0 542.3 929.0 520.0C930.0 497.7 931.8 465.8 933.0 440.0C934.2 414.2 935.3 388.3 936.2 365.0C937.2 341.7 937.9 316.8 938.8 300.0C939.6 283.2 939.8 272.3 941.2 264.1C942.7 255.8 944.4 254.2 947.5 250.3C950.6 246.5 955.8 244.9 960.0 240.9C964.2 236.9 968.3 230.6 972.5 226.4C976.7 222.3 980.8 218.1 985.0 215.8C989.2 213.4 993.3 213.0 997.5 212.5C1001.7 212.0 1005.8 211.6 1010.0 212.8C1014.2 213.9 1018.8 218.1 1022.5 219.6C1026.2 221.0 1029.2 222.7 1032.5 221.4C1035.8 220.2 1037.9 214.8 1042.5 211.9C1047.1 209.0 1053.8 206.3 1060.0 204.2C1066.2 202.2 1072.5 200.4 1080.0 199.8C1087.5 199.3 1097.9 199.9 1105.0 201.0C1112.1 202.1 1117.1 204.3 1122.5 206.4C1127.9 208.5 1132.5 210.6 1137.5 213.6C1142.5 216.6 1147.9 224.0 1152.5 224.6C1157.1 225.3 1160.4 219.6 1165.0 217.5C1169.6 215.4 1174.6 212.8 1180.0 211.8C1185.4 210.7 1191.7 210.1 1197.5 211.1C1203.3 212.1 1210.0 214.5 1215.0 217.8C1220.0 221.0 1223.8 229.3 1227.5 230.9C1231.2 232.4 1233.8 227.7 1237.5 226.9C1241.2 226.2 1245.4 226.5 1250.0 226.5C1254.6 226.5 1260.8 227.5 1265.0 227.2C1269.2 226.8 1271.2 225.8 1275.0 224.6C1278.8 223.3 1282.5 220.6 1287.5 219.8C1292.5 218.9 1299.6 220.4 1305.0 219.6C1310.4 218.8 1314.2 215.8 1320.0 215.0C1325.8 214.2 1334.2 215.2 1340.0 215.0C1345.8 214.8 1350.4 213.3 1355.0 213.5C1359.6 213.7 1364.4 216.7 1367.5 216.0C1370.6 215.3 1371.7 208.9 1373.8 209.2C1375.8 209.6 1376.5 218.1 1380.0 218.3C1383.5 218.4 1389.6 211.4 1395.0 210.1C1400.4 208.7 1405.4 210.2 1412.5 210.1C1419.6 210.0 1429.2 209.7 1437.5 209.5C1445.8 209.3 1455.4 208.6 1462.5 209.0C1469.6 209.4 1472.9 211.7 1480.0 211.6C1487.1 211.5 1497.5 209.3 1505.0 208.4C1512.5 207.5 1517.5 206.4 1525.0 206.0C1532.5 205.6 1541.7 205.3 1550.0 206.0C1558.3 206.7 1566.7 209.3 1575.0 210.4C1583.3 211.4 1591.7 211.7 1600.0 212.2C1608.3 212.7 1617.5 212.7 1625.0 213.2C1632.5 213.7 1638.8 214.8 1645.0 215.0C1651.2 215.2 1655.2 213.6 1662.5 214.5C1669.8 215.4 1680.4 220.0 1688.5 220.5C1696.6 221.0 1702.2 217.9 1711.0 217.7C1719.8 217.5 1729.8 218.4 1741.0 219.4C1752.2 220.5 1766.8 222.2 1778.5 223.8C1790.2 225.5 1801.4 226.9 1811.0 229.4C1820.6 231.9 1827.7 235.9 1836.0 238.7C1844.3 241.6 1854.3 244.2 1861.0 246.4C1867.7 248.6 1871.8 249.3 1876.0 252.0C1880.2 254.7 1882.2 257.3 1886.0 262.5C1889.8 267.7 1894.3 275.5 1898.5 283.2C1902.7 290.9 1906.8 299.3 1911.0 308.8C1915.2 318.3 1919.8 329.8 1923.5 340.2C1927.2 350.6 1930.6 360.3 1933.5 371.0C1936.4 381.7 1938.7 391.8 1941.0 404.4C1943.3 417.0 1945.2 435.4 1947.2 446.7C1949.3 458.0 1951.4 472.1 1953.5 472.4C1955.6 472.6 1957.2 456.3 1959.8 448.3C1962.2 440.3 1965.8 429.3 1968.5 424.5C1971.2 419.8 1973.1 418.0 1976.0 420.0C1978.9 422.0 1982.7 429.6 1986.0 436.4C1989.3 443.3 1993.5 455.5 1996.0 461.1C1998.5 466.7 1999.1 473.4 2001.0 470.0C2002.9 466.6 2005.2 450.5 2007.2 440.6C2009.3 430.6 2011.7 415.4 2013.5 410.2C2015.3 405.1 2016.5 404.9 2018.0 409.5C2019.5 414.1 2020.7 424.1 2022.2 437.6C2023.8 451.1 2025.7 477.5 2027.2 490.2C2028.8 503.0 2030.0 515.3 2031.5 514.2C2033.0 513.1 2034.6 498.9 2036.0 483.7C2037.4 468.5 2038.5 443.4 2039.8 422.9C2041.0 402.4 2042.0 379.4 2043.5 360.8C2045.0 342.2 2046.4 325.6 2048.5 311.2C2050.6 296.8 2053.1 285.4 2056.0 274.4C2058.9 263.4 2062.9 251.4 2066.0 245.2C2069.1 239.0 2072.2 236.1 2074.8 237.2C2077.2 238.3 2078.7 246.4 2081.0 251.7C2083.3 257.0 2085.6 266.9 2088.5 268.9C2091.4 270.9 2095.2 264.5 2098.5 263.8C2101.8 263.1 2105.6 266.0 2108.5 264.5C2111.4 263.1 2113.3 259.0 2116.0 255.0C2118.7 251.0 2122.0 243.5 2124.8 240.5C2127.5 237.6 2129.5 237.4 2132.2 237.2C2135.0 237.1 2139.5 239.3 2141.0 239.8"/>
<path stroke="#ff8000" d="M231.0 455.0C232.3 462.5 236.2 487.7 238.8 500.0C241.3 512.3 244.0 528.8 246.2 528.8C248.5 528.8 250.7 508.1 252.5 500.0C254.3 491.9 255.6 480.0 257.0 480.0C258.4 480.0 259.7 491.7 261.0 500.0C262.3 508.3 263.5 512.5 265.0 530.0C266.5 547.5 268.5 580.0 270.0 605.0C271.5 630.0 272.3 657.1 273.8 680.0C275.2 702.9 276.9 722.5 278.8 742.5C280.6 762.5 283.3 759.6 285.0 800.0C286.7 840.4 287.7 926.7 288.8 985.0C289.8 1043.3 290.6 1113.3 291.3 1150.0C292.0 1186.7 292.4 1205.0 293.0 1205.0C293.6 1205.0 293.9 1184.2 295.0 1150.0C296.1 1115.8 298.2 1058.3 299.5 1000.0C300.8 941.7 301.9 853.3 303.0 800.0C304.1 746.7 305.0 712.5 306.0 680.0C307.0 647.5 308.2 627.9 309.2 605.0C310.3 582.1 311.3 555.8 312.5 542.5C313.7 529.2 314.4 528.3 316.2 525.0C318.1 521.7 321.9 525.8 323.8 522.5C325.6 519.2 325.6 516.2 327.5 505.0C329.4 493.8 332.7 465.4 335.0 455.0C337.3 444.6 339.2 438.3 341.2 442.5C343.3 446.7 345.2 461.2 347.5 480.0C349.8 498.8 352.5 532.1 355.0 555.0C357.5 577.9 360.6 604.6 362.5 617.5C364.4 630.4 364.6 634.6 366.2 632.5C367.9 630.4 370.2 610.4 372.5 605.0C374.8 599.6 377.5 604.2 380.0 600.0C382.5 595.8 384.8 589.2 387.5 580.0C390.2 570.8 393.3 549.2 396.2 545.0C399.2 540.8 401.9 553.5 405.0 555.0C408.1 556.5 412.1 549.6 415.0 553.8C417.9 557.9 420.4 567.3 422.5 580.0C424.6 592.7 425.8 611.2 427.5 630.0C429.2 648.8 430.8 669.2 432.5 692.5C434.2 715.8 436.4 742.1 437.5 770.0C438.6 797.9 438.3 836.7 439.0 860.0C439.7 883.3 440.7 899.8 441.5 910.0C442.3 920.2 443.2 919.7 444.0 921.0C444.8 922.3 445.7 916.2 446.5 918.0C447.3 919.8 448.0 920.8 449.0 932.0C450.0 943.2 451.2 969.5 452.5 985.0C453.8 1000.5 455.2 1014.0 456.5 1025.0C457.8 1036.0 458.8 1053.5 460.0 1051.0C461.2 1048.5 462.0 1029.3 463.5 1010.0C465.0 990.7 467.2 960.0 468.8 935.0C470.2 910.0 471.2 881.7 472.5 860.0C473.8 838.3 475.2 818.3 476.5 805.0C477.8 791.7 479.1 782.2 480.5 780.0C481.9 777.8 483.4 786.2 485.0 792.0C486.6 797.8 488.1 799.5 490.0 815.0C491.9 830.5 494.4 867.1 496.2 885.0C498.1 902.9 499.7 919.2 501.2 922.5C502.8 925.8 504.0 909.2 505.5 905.0C507.0 900.8 508.5 897.5 510.0 897.5C511.5 897.5 513.0 901.7 514.5 905.0C516.0 908.3 517.0 925.0 518.8 917.5C520.5 910.0 523.1 880.4 525.0 860.0C526.9 839.6 528.3 820.8 530.0 795.0C531.7 769.2 533.1 732.5 535.0 705.0C536.9 677.5 539.2 648.8 541.2 630.0C543.3 611.2 544.8 600.8 547.5 592.5C550.2 584.2 554.6 577.9 557.5 580.0C560.4 582.1 562.7 588.3 565.0 605.0C567.3 621.7 569.5 650.0 571.2 680.0C573.0 710.0 574.3 740.0 575.5 785.0C576.7 830.0 577.7 907.5 578.5 950.0C579.3 992.5 579.8 1040.0 580.5 1040.0C581.2 1040.0 581.5 992.5 582.5 950.0C583.5 907.5 585.5 838.3 586.5 785.0C587.5 731.7 587.8 676.7 588.8 630.0C589.8 583.3 591.2 535.4 592.5 505.0C593.8 474.6 594.8 447.5 596.2 447.5C597.7 447.5 599.8 474.6 601.2 505.0C602.7 535.4 603.6 583.3 605.0 630.0C606.4 676.7 607.8 734.2 609.5 785.0C611.2 835.8 612.4 889.2 615.0 935.0C617.6 980.8 622.1 1032.1 625.0 1060.0C627.9 1087.9 630.2 1106.7 632.5 1102.5C634.8 1098.3 637.2 1067.1 638.8 1035.0C640.3 1002.9 641.1 951.7 642.0 910.0C642.9 868.3 643.3 827.5 644.0 785.0C644.7 742.5 645.0 693.3 646.0 655.0C647.0 616.7 648.2 580.0 650.0 555.0C651.8 530.0 654.7 505.0 657.0 505.0C659.3 505.0 661.6 534.2 663.8 555.0C665.9 575.8 668.2 612.1 670.0 630.0C671.8 647.9 673.0 662.5 674.5 662.5C676.0 662.5 677.2 652.1 678.8 630.0C680.3 607.9 682.1 561.2 683.8 530.0C685.4 498.8 686.7 461.2 688.8 442.5C690.8 423.8 693.5 418.3 696.2 417.5C699.0 416.7 702.5 432.5 705.0 437.5C707.5 442.5 709.4 448.8 711.2 447.5C713.1 446.2 714.7 435.8 716.2 430.0C717.8 424.2 719.0 406.2 720.5 412.5C722.0 418.8 723.6 450.2 725.0 467.5C726.4 484.8 727.3 510.8 728.8 516.2C730.2 521.7 731.2 503.5 733.8 500.0C736.2 496.5 741.5 502.5 743.8 495.0C746.0 487.5 746.0 470.8 747.5 455.0C749.0 439.2 750.8 413.2 752.5 400.0C754.2 386.8 755.6 377.3 757.5 376.0C759.4 374.7 761.9 385.9 764.0 392.0C766.1 398.1 767.8 412.8 770.0 412.5C772.2 412.2 775.0 392.1 777.5 390.0C780.0 387.9 782.9 394.2 785.0 400.0C787.1 405.8 788.3 412.0 790.0 425.0C791.7 438.0 793.4 459.7 795.0 478.0C796.6 496.3 798.0 513.0 799.5 535.0C801.0 557.0 802.2 605.8 803.8 610.0C805.2 614.2 806.7 579.2 808.5 560.0C810.3 540.8 812.6 513.3 814.5 495.0C816.4 476.7 818.2 463.3 820.0 450.0C821.8 436.7 823.6 422.5 825.0 415.0C826.4 407.5 827.0 402.5 828.2 405.0C829.5 407.5 831.3 414.2 832.5 430.0C833.7 445.8 834.7 459.2 835.5 500.0C836.3 540.8 836.6 620.8 837.5 675.0C838.4 729.2 839.8 762.5 841.0 825.0C842.2 887.5 843.5 1000.4 844.5 1050.0C845.5 1099.6 846.0 1122.5 846.8 1122.5C847.5 1122.5 848.2 1099.6 849.0 1050.0C849.8 1000.4 850.9 887.5 851.8 825.0C852.6 762.5 853.4 729.2 854.0 675.0C854.6 620.8 854.9 545.8 855.5 500.0C856.1 454.2 856.8 429.2 857.5 400.0C858.2 370.8 858.8 347.9 860.0 325.0C861.2 302.1 863.1 276.2 865.0 262.5C866.9 248.8 868.3 246.5 871.2 242.5C874.2 238.5 879.0 238.8 882.5 238.8C886.0 238.8 889.8 238.5 892.5 242.5C895.2 246.5 897.1 252.9 898.8 262.5C900.4 272.1 901.5 285.4 902.5 300.0C903.5 314.6 904.2 335.8 905.0 350.0C905.8 364.2 906.5 389.2 907.5 385.0C908.5 380.8 910.1 340.0 911.2 325.0C912.4 310.0 913.1 295.0 914.2 295.0C915.4 295.0 917.0 314.2 918.0 325.0C919.0 335.8 919.5 342.5 920.5 360.0C921.5 377.5 922.9 403.3 923.8 430.0C924.6 456.7 925.2 496.0 925.8 520.0C926.3 544.0 926.5 574.0 927.0 574.0C927.5 574.0 928.0 542.3 929.0 520.0C930.0 497.7 931.8 465.8 933.0 440.0C934.2 414.2 935.3 388.3 936.2 365.0C937.2 341.7 937.9 316.8 938.8 300.0C939.6 283.2 939.8 272.3 941.2 264.0C942.7 255.7 944.4 254.0 947.5 250.0C950.6 246.0 955.8 244.2 960.0 240.0C964.2 235.8 968.3 229.4 972.5 225.0C976.7 220.6 980.8 216.3 985.0 213.8C989.2 211.2 993.3 210.3 997.5 209.5C1001.7 208.7 1005.8 208.2 1010.0 208.8C1014.2 209.2 1018.8 211.7 1022.5 212.5C1026.2 213.3 1029.2 214.2 1032.5 213.8C1035.8 213.3 1037.9 211.2 1042.5 210.0C1047.1 208.8 1053.8 207.5 1060.0 206.2C1066.2 205.0 1072.5 203.1 1080.0 202.5C1087.5 201.9 1097.9 201.9 1105.0 202.5C1112.1 203.1 1117.1 204.6 1122.5 206.2C1127.9 207.9 1132.5 209.8 1137.5 212.5C1142.5 215.2 1147.9 222.5 1152.5 222.5C1157.1 222.5 1160.4 215.6 1165.0 212.5C1169.6 209.4 1174.6 206.0 1180.0 203.8C1185.4 201.5 1191.7 200.4 1197.5 198.8C1203.3 197.1 1210.0 194.2 1215.0 193.8C1220.0 193.3 1223.8 195.2 1227.5 196.2C1231.2 197.3 1233.8 199.8 1237.5 200.0C1241.2 200.2 1245.4 198.3 1250.0 197.5C1254.6 196.7 1260.8 194.8 1265.0 195.0C1269.2 195.2 1271.2 196.5 1275.0 198.8C1278.8 201.0 1282.5 206.5 1287.5 208.8C1292.5 211.0 1299.6 212.7 1305.0 212.5C1310.4 212.3 1314.2 209.2 1320.0 207.5C1325.8 205.8 1334.2 205.0 1340.0 202.5C1345.8 200.0 1350.4 195.8 1355.0 192.5C1359.6 189.2 1364.4 186.0 1367.5 182.5C1370.6 179.0 1371.7 171.2 1373.8 171.2C1375.8 171.2 1376.5 180.4 1380.0 182.5C1383.5 184.6 1389.6 182.9 1395.0 183.8C1400.4 184.6 1405.4 185.6 1412.5 187.5C1419.6 189.4 1429.2 192.5 1437.5 195.0C1445.8 197.5 1455.4 200.2 1462.5 202.5C1469.6 204.8 1472.9 207.3 1480.0 208.8C1487.1 210.2 1497.5 211.0 1505.0 211.2C1512.5 211.5 1517.5 210.2 1525.0 210.0C1532.5 209.8 1541.7 209.4 1550.0 210.0C1558.3 210.6 1566.7 212.9 1575.0 213.8C1583.3 214.6 1591.7 214.7 1600.0 215.0C1608.3 215.3 1617.5 215.2 1625.0 215.5C1632.5 215.8 1638.8 216.8 1645.0 217.0C1651.2 217.2 1655.2 215.6 1662.5 216.5C1669.8 217.4 1680.4 221.9 1688.5 222.5C1696.6 223.1 1702.2 220.0 1711.0 220.0C1719.8 220.0 1729.8 221.0 1741.0 222.5C1752.2 224.0 1766.8 226.7 1778.5 228.8C1790.2 230.8 1801.4 232.3 1811.0 235.0C1820.6 237.7 1827.7 241.9 1836.0 245.0C1844.3 248.1 1854.3 251.2 1861.0 253.8C1867.7 256.2 1871.8 256.9 1876.0 260.0C1880.2 263.1 1882.2 266.7 1886.0 272.5C1889.8 278.3 1894.3 286.7 1898.5 295.0C1902.7 303.3 1906.8 312.5 1911.0 322.5C1915.2 332.5 1919.8 344.2 1923.5 355.0C1927.2 365.8 1930.6 375.8 1933.5 387.5C1936.4 399.2 1938.7 411.2 1941.0 425.0C1943.3 438.8 1945.2 457.9 1947.2 470.0C1949.3 482.1 1951.4 496.7 1953.5 497.5C1955.6 498.3 1957.2 482.9 1959.8 475.0C1962.2 467.1 1965.8 455.8 1968.5 450.0C1971.2 444.2 1973.1 439.2 1976.0 440.0C1978.9 440.8 1982.7 448.8 1986.0 455.0C1989.3 461.2 1993.5 472.5 1996.0 477.5C1998.5 482.5 1999.1 487.5 2001.0 485.0C2002.9 482.5 2005.2 471.7 2007.2 462.5C2009.3 453.3 2011.7 436.7 2013.5 430.0C2015.3 423.3 2016.5 419.2 2018.0 422.5C2019.5 425.8 2020.7 437.1 2022.2 450.0C2023.8 462.9 2025.7 488.3 2027.2 500.0C2028.8 511.7 2030.0 522.1 2031.5 520.0C2033.0 517.9 2034.6 503.3 2036.0 487.5C2037.4 471.7 2038.5 445.8 2039.8 425.0C2041.0 404.2 2042.0 381.2 2043.5 362.5C2045.0 343.8 2046.4 327.1 2048.5 312.5C2050.6 297.9 2053.1 286.2 2056.0 275.0C2058.9 263.8 2062.9 251.5 2066.0 245.0C2069.1 238.5 2072.2 235.4 2074.8 236.2C2077.2 237.1 2078.7 245.0 2081.0 250.0C2083.3 255.0 2085.6 264.6 2088.5 266.2C2091.4 267.9 2095.2 261.0 2098.5 260.0C2101.8 259.0 2105.6 261.7 2108.5 260.0C2111.4 258.3 2113.3 254.2 2116.0 250.0C2118.7 245.8 2122.0 238.1 2124.8 235.0C2127.5 231.9 2129.5 231.5 2132.2 231.2C2135.0 231.0 2139.5 233.3 2141.0 233.8"/>
</g>
<g stroke="#1a1a1a" fill="none">
<rect x="231" y="41" width="1910" height="1339" stroke-width="5.4"/>
<line x1="434.2" y1="1380" x2="434.2" y2="1353" stroke-width="5.5"/>
<line x1="840.6" y1="1380" x2="840.6" y2="1353" stroke-width="5.5"/>
<line x1="1247.0" y1="1380" x2="1247.0" y2="1353" stroke-width="5.5"/>
<line x1="1653.3" y1="1380" x2="1653.3" y2="1353" stroke-width="5.5"/>
<line x1="2059.7" y1="1380" x2="2059.7" y2="1353" stroke-width="5.5"/>
<line x1="637.4" y1="1380" x2="637.4" y2="1368" stroke-width="5.5"/>
<line x1="1043.8" y1="1380" x2="1043.8" y2="1368" stroke-width="5.5"/>
<line x1="1450.1" y1="1380" x2="1450.1" y2="1368" stroke-width="5.5"/>
<line x1="1856.5" y1="1380" x2="1856.5" y2="1368" stroke-width="5.5"/>
</g>
<g fill="#111" font-size="74" text-anchor="middle">
<text transform="translate(434.7,1466.5) scale(1,1.04)">1000</text>
<text transform="translate(841.1,1466.5) scale(1,1.04)">1500</text>
<text transform="translate(1247.5,1466.5) scale(1,1.04)">2000</text>
<text transform="translate(1653.8,1466.5) scale(1,1.04)">2500</text>
<text transform="translate(2060.2,1466.5) scale(1,1.04)">3000</text>
</g>
<text transform="translate(1184,1585) scale(1,1.04)" font-size="93" text-anchor="middle" fill="#111">Wavenumber (cm<tspan font-size="59" dy="-36">-1</tspan><tspan dy="36">)</tspan></text>
<text transform="translate(113.5,702) rotate(-90) scale(1,1.04)" font-size="94.3" text-anchor="middle" fill="#111">Transmittance (a.u.)</text>
<g fill="#7030a0" font-size="56">
<text transform="translate(310.5,1143.5) scale(.944,1.03)">C–O–C</text>
<text transform="translate(472.5,1078.5) scale(.968,1.03)">C–O</text>
<text transform="translate(638.5,1250.5) scale(.944,1.03)">C–O–C</text>
</g>
<g stroke="#7030a0" stroke-width="5.5" fill="none" stroke-dasharray="13 12" opacity="0.72">
<path d="M399 1097L431 1020"/>
<path d="M517.5 1045L512.5 957"/>
<path d="M684 1205L655 1137"/>
</g>
<g fill="#7030a0">
<path d="M441.5 1000L421 1014L441.5 1024Z"/>
<path d="M512 934L499.5 956.5L525 956.5Z"/>
<path d="M643.5 1109L642 1133L663 1124Z"/>
</g>
<rect x="965.5" y="699.5" width="616.25" height="540.5" fill="#fff"/>
<g clip-path="url(#ci)" fill="none" stroke-width="5.6" stroke-linejoin="round">
<path stroke="#595959" d="M965.5 818.8C967.9 823.3 975.5 836.7 980.0 846.2C984.5 855.8 988.3 865.6 992.5 876.2C996.7 886.9 1001.2 899.8 1005.0 910.0C1008.8 920.2 1012.3 928.8 1015.0 937.5C1017.7 946.2 1019.4 956.5 1021.2 962.5C1023.1 968.5 1024.8 971.7 1026.2 973.8C1027.7 975.8 1028.5 975.6 1030.0 975.0C1031.5 974.4 1033.3 971.3 1035.0 970.0C1036.7 968.7 1038.3 966.4 1040.0 967.0C1041.7 967.6 1043.1 969.1 1045.0 973.8C1046.9 978.4 1048.8 986.9 1051.2 995.0C1053.8 1003.1 1057.3 1015.6 1060.0 1022.5C1062.7 1029.4 1065.1 1033.5 1067.5 1036.2C1069.9 1039.0 1072.2 1039.8 1074.5 1038.8C1076.8 1037.7 1079.1 1036.0 1081.2 1030.0C1083.4 1024.0 1085.4 1013.3 1087.5 1002.5C1089.6 991.7 1091.7 976.7 1093.8 965.0C1095.8 953.3 1097.7 941.0 1100.0 932.5C1102.3 924.0 1105.0 917.9 1107.5 913.8C1110.0 909.6 1112.5 908.7 1115.0 907.5C1117.5 906.3 1119.6 906.3 1122.5 906.8C1125.4 907.2 1128.8 907.2 1132.5 910.0C1136.2 912.8 1140.4 917.5 1145.0 923.8C1149.6 930.0 1155.4 940.6 1160.0 947.5C1164.6 954.4 1169.2 961.3 1172.5 965.0C1175.8 968.7 1177.1 970.1 1180.0 969.5C1182.9 968.9 1186.7 963.5 1190.0 961.2C1193.3 959.0 1196.7 956.5 1200.0 956.2C1203.3 956.0 1206.7 958.5 1210.0 960.0C1213.3 961.5 1217.1 965.0 1220.0 965.0C1222.9 965.0 1224.6 964.8 1227.5 960.0C1230.4 955.2 1234.6 942.6 1237.5 936.2C1240.4 929.9 1242.5 926.7 1245.0 922.0C1247.5 917.3 1249.6 914.2 1252.5 908.0C1255.4 901.8 1258.8 893.4 1262.5 885.0C1266.2 876.6 1270.8 865.8 1275.0 857.5C1279.2 849.2 1283.8 839.8 1287.5 835.0C1291.2 830.2 1293.8 830.0 1297.5 828.8C1301.2 827.5 1305.8 828.0 1310.0 827.5C1314.2 827.0 1318.8 825.1 1322.5 825.5C1326.2 825.9 1329.2 826.8 1332.5 830.0C1335.8 833.2 1339.6 838.3 1342.5 845.0C1345.4 851.7 1347.5 858.3 1350.0 870.0C1352.5 881.7 1355.0 899.2 1357.5 915.0C1360.0 930.8 1362.7 949.6 1365.0 965.0C1367.3 980.4 1369.2 997.7 1371.2 1007.5C1373.2 1017.3 1375.3 1024.2 1377.0 1023.8C1378.7 1023.3 1380.2 1011.5 1381.5 1005.0C1382.8 998.5 1383.8 992.2 1385.0 985.0C1386.2 977.8 1387.2 971.2 1388.5 962.0C1389.8 952.8 1390.7 948.9 1392.5 930.0C1394.3 911.1 1397.2 872.0 1399.5 848.5C1401.8 825.0 1404.2 802.8 1406.3 789.0C1408.4 775.2 1410.2 770.7 1412.0 766.0C1413.8 761.3 1415.1 760.2 1416.8 761.0C1418.5 761.8 1420.0 765.5 1422.0 771.0C1424.0 776.5 1426.3 781.1 1429.0 794.0C1431.7 806.9 1435.1 828.2 1438.0 848.5C1440.9 868.8 1443.8 893.4 1446.5 916.0C1449.2 938.6 1451.4 968.2 1454.0 984.0C1456.6 999.8 1458.8 1003.3 1462.0 1011.0C1465.2 1018.7 1469.3 1025.4 1473.0 1030.0C1476.7 1034.6 1479.9 1036.2 1484.0 1038.5C1488.1 1040.8 1493.6 1042.7 1497.4 1044.0C1501.2 1045.3 1504.3 1047.1 1507.0 1046.6C1509.7 1046.1 1511.7 1045.9 1513.7 1041.0C1515.7 1036.1 1516.8 1031.0 1519.0 1017.0C1521.2 1003.0 1524.3 978.3 1527.0 957.0C1529.7 935.7 1532.7 909.3 1535.4 889.0C1538.2 868.7 1540.3 849.8 1543.5 835.0C1546.7 820.2 1550.8 807.5 1554.4 800.0C1558.0 792.5 1562.3 791.8 1565.0 790.0C1567.7 788.2 1567.9 787.7 1570.7 789.0C1573.5 790.3 1579.9 796.5 1581.8 798.0"/>
<path stroke="#f03c3c" d="M965.5 817.0C967.9 821.8 975.5 834.9 980.0 845.5C984.5 856.1 988.3 868.0 992.5 880.5C996.7 893.0 1001.2 906.4 1005.0 920.5C1008.8 934.6 1012.3 951.5 1015.0 965.0C1017.7 978.5 1019.4 992.5 1021.2 1001.2C1023.1 1010.0 1024.8 1014.2 1026.2 1017.5C1027.7 1020.8 1028.5 1021.9 1030.0 1021.2C1031.5 1020.6 1033.3 1015.6 1035.0 1013.8C1036.7 1011.9 1038.3 1009.4 1040.0 1010.0C1041.7 1010.6 1043.1 1012.7 1045.0 1017.5C1046.9 1022.3 1048.8 1029.4 1051.2 1038.8C1053.8 1048.1 1057.3 1063.1 1060.0 1073.8C1062.7 1084.4 1065.0 1095.6 1067.5 1102.5C1070.0 1109.4 1072.5 1115.0 1075.0 1115.0C1077.5 1115.0 1080.2 1108.3 1082.5 1102.5C1084.8 1096.7 1086.9 1090.4 1088.8 1080.0C1090.6 1069.6 1091.9 1055.2 1093.8 1040.0C1095.6 1024.8 1097.7 1003.3 1100.0 988.8C1102.3 974.2 1105.0 960.8 1107.5 952.5C1110.0 944.2 1112.5 941.5 1115.0 938.8C1117.5 936.0 1119.6 935.6 1122.5 936.2C1125.4 936.9 1128.8 938.1 1132.5 942.5C1136.2 946.9 1140.4 954.4 1145.0 962.5C1149.6 970.6 1155.4 982.7 1160.0 991.2C1164.6 999.8 1169.2 1009.0 1172.5 1013.8C1175.8 1018.5 1177.1 1020.8 1180.0 1020.0C1182.9 1019.2 1186.7 1011.5 1190.0 1008.8C1193.3 1006.0 1196.7 1003.5 1200.0 1003.8C1203.3 1004.0 1206.7 1007.9 1210.0 1010.0C1213.3 1012.1 1217.1 1016.5 1220.0 1016.2C1222.9 1016.0 1224.6 1013.5 1227.5 1008.8C1230.4 1004.0 1233.8 995.4 1237.5 987.5C1241.2 979.6 1245.8 971.3 1250.0 961.2C1254.2 951.2 1258.3 939.0 1262.5 927.0C1266.7 915.0 1270.8 901.6 1275.0 889.5C1279.2 877.4 1283.8 862.9 1287.5 854.5C1291.2 846.1 1293.8 842.2 1297.5 839.0C1301.2 835.8 1305.8 836.2 1310.0 835.0C1314.2 833.8 1318.8 831.7 1322.5 832.0C1326.2 832.3 1329.2 833.2 1332.5 837.0C1335.8 840.8 1339.4 846.2 1342.5 855.0C1345.6 863.8 1348.8 875.8 1351.2 890.0C1353.8 904.2 1355.2 921.2 1357.5 940.0C1359.8 958.8 1362.7 981.7 1365.0 1002.5C1367.3 1023.3 1369.6 1049.6 1371.2 1065.0C1372.9 1080.4 1374.0 1087.9 1375.0 1095.0C1376.0 1102.1 1376.7 1107.5 1377.5 1107.5C1378.3 1107.5 1379.0 1102.1 1380.0 1095.0C1381.0 1087.9 1382.7 1079.0 1383.8 1065.0C1384.8 1051.0 1384.9 1033.5 1386.5 1011.0C1388.1 988.5 1391.0 957.1 1393.3 930.0C1395.5 902.9 1397.8 872.4 1400.0 848.5C1402.2 824.6 1404.7 800.8 1406.8 786.5C1408.9 772.2 1410.8 768.0 1412.5 763.0C1414.2 758.0 1415.3 755.6 1416.8 756.5C1418.3 757.4 1419.6 762.2 1421.5 768.5C1423.4 774.8 1425.5 780.7 1428.0 794.0C1430.5 807.3 1433.8 828.2 1436.5 848.5C1439.2 868.8 1442.0 893.4 1444.5 916.0C1447.0 938.6 1449.2 964.2 1451.5 984.0C1453.8 1003.8 1455.8 1020.3 1458.0 1035.0C1460.2 1049.7 1462.7 1061.5 1465.0 1072.0C1467.3 1082.5 1469.0 1089.7 1472.0 1098.0C1475.0 1106.3 1479.2 1115.7 1483.0 1122.0C1486.8 1128.3 1491.0 1132.0 1495.0 1136.0C1499.0 1140.0 1503.7 1145.9 1507.0 1145.7C1510.3 1145.5 1512.7 1142.6 1515.0 1135.0C1517.3 1127.4 1518.8 1116.2 1521.0 1100.0C1523.2 1083.8 1525.7 1061.8 1528.0 1038.0C1530.3 1014.2 1532.7 982.0 1535.0 957.0C1537.3 932.0 1539.5 908.7 1542.0 888.0C1544.5 867.3 1547.1 848.2 1550.0 833.0C1552.9 817.8 1556.0 805.2 1559.5 797.0C1563.0 788.8 1567.0 783.8 1570.7 783.5C1574.4 783.2 1579.9 793.1 1581.8 795.0"/>
<path stroke="#00ff00" d="M965.5 825.0C967.9 829.6 975.5 842.1 980.0 852.5C984.5 862.9 988.3 875.0 992.5 887.5C996.7 900.0 1001.2 913.5 1005.0 927.5C1008.8 941.5 1012.3 957.9 1015.0 971.2C1017.7 984.6 1019.4 998.5 1021.2 1007.5C1023.1 1016.5 1024.8 1021.6 1026.2 1025.0C1027.7 1028.4 1028.5 1028.6 1030.0 1028.0C1031.5 1027.4 1033.3 1023.0 1035.0 1021.2C1036.7 1019.5 1038.3 1017.1 1040.0 1017.5C1041.7 1017.9 1043.1 1019.6 1045.0 1023.8C1046.9 1027.9 1048.8 1034.4 1051.2 1042.5C1053.8 1050.6 1057.3 1064.2 1060.0 1072.5C1062.7 1080.8 1065.0 1087.7 1067.5 1092.5C1070.0 1097.3 1072.5 1101.2 1075.0 1101.2C1077.5 1101.2 1080.2 1096.9 1082.5 1092.5C1084.8 1088.1 1086.9 1083.3 1088.8 1075.0C1090.6 1066.7 1091.9 1055.4 1093.8 1042.5C1095.6 1029.6 1097.7 1009.6 1100.0 997.5C1102.3 985.4 1105.0 976.5 1107.5 970.0C1110.0 963.5 1112.5 961.0 1115.0 958.8C1117.5 956.5 1119.6 955.8 1122.5 956.2C1125.4 956.7 1128.8 957.3 1132.5 961.2C1136.2 965.2 1140.4 972.3 1145.0 980.0C1149.6 987.7 1155.4 999.6 1160.0 1007.5C1164.6 1015.4 1169.2 1022.7 1172.5 1027.5C1175.8 1032.3 1177.1 1037.1 1180.0 1036.2C1182.9 1035.4 1186.7 1025.8 1190.0 1022.5C1193.3 1019.2 1196.7 1016.7 1200.0 1016.2C1203.3 1015.8 1206.7 1018.5 1210.0 1020.0C1213.3 1021.5 1217.1 1026.5 1220.0 1025.5C1222.9 1024.5 1224.6 1019.5 1227.5 1013.8C1230.4 1008.0 1233.8 999.6 1237.5 991.2C1241.2 982.9 1245.8 974.2 1250.0 963.8C1254.2 953.3 1258.3 940.8 1262.5 928.8C1266.7 916.7 1270.8 903.3 1275.0 891.2C1279.2 879.2 1283.8 864.6 1287.5 856.2C1291.2 847.9 1293.8 844.4 1297.5 841.2C1301.2 838.1 1305.8 838.6 1310.0 837.5C1314.2 836.4 1318.8 834.2 1322.5 834.5C1326.2 834.8 1329.2 835.4 1332.5 839.0C1335.8 842.6 1339.4 847.5 1342.5 856.2C1345.6 865.0 1348.8 877.3 1351.2 891.2C1353.8 905.2 1355.2 921.5 1357.5 940.0C1359.8 958.5 1362.7 982.1 1365.0 1002.5C1367.3 1022.9 1369.6 1047.9 1371.2 1062.5C1372.9 1077.1 1374.0 1083.8 1375.0 1090.0C1376.0 1096.2 1376.7 1100.0 1377.5 1100.0C1378.3 1100.0 1379.0 1096.2 1380.0 1090.0C1381.0 1083.8 1382.7 1075.7 1383.8 1062.5C1384.8 1049.3 1384.9 1033.1 1386.5 1011.0C1388.1 988.9 1391.0 957.1 1393.3 930.0C1395.5 902.9 1397.8 872.2 1400.0 848.5C1402.2 824.8 1404.7 801.9 1406.8 788.0C1408.9 774.1 1410.8 769.8 1412.5 765.0C1414.2 760.2 1415.3 758.2 1416.8 759.0C1418.3 759.8 1419.6 764.2 1421.5 770.0C1423.4 775.8 1425.5 780.9 1428.0 794.0C1430.5 807.1 1433.8 828.2 1436.5 848.5C1439.2 868.8 1442.0 894.1 1444.5 916.0C1447.0 937.9 1449.2 961.3 1451.5 980.0C1453.8 998.7 1455.8 1014.7 1458.0 1028.0C1460.2 1041.3 1462.5 1050.5 1465.0 1060.0C1467.5 1069.5 1469.8 1077.0 1473.0 1085.0C1476.2 1093.0 1480.2 1101.8 1484.0 1108.0C1487.8 1114.2 1492.2 1118.2 1496.0 1122.0C1499.8 1125.8 1503.9 1131.1 1507.0 1130.8C1510.1 1130.5 1512.2 1126.8 1514.5 1120.0C1516.8 1113.2 1518.3 1104.2 1520.5 1090.0C1522.7 1075.8 1525.1 1057.2 1527.5 1035.0C1529.9 1012.8 1532.6 981.3 1535.0 957.0C1537.4 932.7 1539.5 909.3 1542.0 889.0C1544.5 868.7 1547.1 849.3 1550.0 835.0C1552.9 820.7 1556.0 810.3 1559.5 803.0C1563.0 795.7 1567.0 791.2 1570.7 791.0C1574.4 790.8 1579.9 800.2 1581.8 802.0"/>
<path stroke="#0000ff" d="M965.5 816.2C967.9 821.0 975.5 834.4 980.0 845.0C984.5 855.6 988.3 867.5 992.5 880.0C996.7 892.5 1001.2 905.8 1005.0 920.0C1008.8 934.2 1012.3 951.2 1015.0 965.0C1017.7 978.8 1019.4 993.3 1021.2 1002.5C1023.1 1011.7 1024.8 1016.5 1026.2 1020.0C1027.7 1023.5 1028.5 1024.2 1030.0 1023.8C1031.5 1023.3 1033.3 1019.2 1035.0 1017.5C1036.7 1015.8 1038.3 1013.3 1040.0 1013.8C1041.7 1014.2 1043.1 1015.6 1045.0 1020.0C1046.9 1024.4 1048.8 1030.8 1051.2 1040.0C1053.8 1049.2 1057.3 1064.6 1060.0 1075.0C1062.7 1085.4 1065.0 1095.8 1067.5 1102.5C1070.0 1109.2 1072.5 1115.0 1075.0 1115.0C1077.5 1115.0 1080.2 1108.3 1082.5 1102.5C1084.8 1096.7 1086.9 1090.4 1088.8 1080.0C1090.6 1069.6 1091.9 1055.0 1093.8 1040.0C1095.6 1025.0 1097.7 1004.2 1100.0 990.0C1102.3 975.8 1105.0 963.1 1107.5 955.0C1110.0 946.9 1112.5 944.0 1115.0 941.2C1117.5 938.5 1119.6 938.1 1122.5 938.8C1125.4 939.4 1128.8 940.6 1132.5 945.0C1136.2 949.4 1140.4 956.7 1145.0 965.0C1149.6 973.3 1155.4 986.2 1160.0 995.0C1164.6 1003.8 1169.2 1012.5 1172.5 1017.5C1175.8 1022.5 1177.1 1025.6 1180.0 1025.0C1182.9 1024.4 1186.7 1016.5 1190.0 1013.8C1193.3 1011.0 1196.7 1008.5 1200.0 1008.8C1203.3 1009.0 1206.7 1012.7 1210.0 1015.0C1213.3 1017.3 1217.1 1022.9 1220.0 1022.5C1222.9 1022.1 1224.6 1017.9 1227.5 1012.5C1230.4 1007.1 1233.8 998.3 1237.5 990.0C1241.2 981.7 1245.8 972.9 1250.0 962.5C1254.2 952.1 1258.3 939.6 1262.5 927.5C1266.7 915.4 1270.8 902.1 1275.0 890.0C1279.2 877.9 1283.8 863.3 1287.5 855.0C1291.2 846.7 1293.8 843.1 1297.5 840.0C1301.2 836.9 1305.8 837.4 1310.0 836.2C1314.2 835.1 1318.8 832.8 1322.5 833.0C1326.2 833.2 1329.2 833.8 1332.5 837.5C1335.8 841.2 1339.4 846.2 1342.5 855.0C1345.6 863.8 1348.8 875.8 1351.2 890.0C1353.8 904.2 1355.2 921.2 1357.5 940.0C1359.8 958.8 1362.7 981.7 1365.0 1002.5C1367.3 1023.3 1369.6 1049.6 1371.2 1065.0C1372.9 1080.4 1374.0 1087.9 1375.0 1095.0C1376.0 1102.1 1376.7 1107.5 1377.5 1107.5C1378.3 1107.5 1379.0 1102.1 1380.0 1095.0C1381.0 1087.9 1382.7 1079.0 1383.8 1065.0C1384.8 1051.0 1384.9 1033.5 1386.5 1011.0C1388.1 988.5 1391.0 957.1 1393.3 930.0C1395.5 902.9 1397.8 872.5 1400.0 848.5C1402.2 824.5 1404.7 800.4 1406.8 786.0C1408.9 771.6 1410.8 767.1 1412.5 762.0C1414.2 756.9 1415.3 754.5 1416.8 755.5C1418.3 756.5 1419.6 761.6 1421.5 768.0C1423.4 774.4 1425.5 780.6 1428.0 794.0C1430.5 807.4 1433.8 828.2 1436.5 848.5C1439.2 868.8 1442.0 893.4 1444.5 916.0C1447.0 938.6 1449.2 964.2 1451.5 984.0C1453.8 1003.8 1455.8 1020.3 1458.0 1035.0C1460.2 1049.7 1462.7 1061.5 1465.0 1072.0C1467.3 1082.5 1469.0 1089.7 1472.0 1098.0C1475.0 1106.3 1479.2 1115.7 1483.0 1122.0C1486.8 1128.3 1491.0 1132.0 1495.0 1136.0C1499.0 1140.0 1503.7 1145.9 1507.0 1145.7C1510.3 1145.5 1512.7 1142.6 1515.0 1135.0C1517.3 1127.4 1518.8 1116.2 1521.0 1100.0C1523.2 1083.8 1525.7 1061.8 1528.0 1038.0C1530.3 1014.2 1532.7 981.8 1535.0 957.0C1537.3 932.2 1539.5 909.3 1542.0 889.0C1544.5 868.7 1547.1 849.8 1550.0 835.0C1552.9 820.2 1556.0 808.0 1559.5 800.0C1563.0 792.0 1567.0 787.3 1570.7 787.0C1574.4 786.7 1579.9 796.2 1581.8 798.0"/>
<path stroke="#ff8000" d="M965.5 835.0C967.9 840.0 975.5 853.8 980.0 865.0C984.5 876.2 988.3 888.8 992.5 902.5C996.7 916.2 1001.2 931.7 1005.0 947.5C1008.8 963.3 1012.3 982.9 1015.0 997.5C1017.7 1012.1 1019.4 1026.2 1021.2 1035.0C1023.1 1043.8 1024.8 1046.9 1026.2 1050.0C1027.7 1053.1 1028.5 1054.4 1030.0 1053.8C1031.5 1053.1 1033.3 1048.0 1035.0 1046.2C1036.7 1044.5 1038.3 1042.4 1040.0 1043.0C1041.7 1043.6 1043.1 1045.1 1045.0 1050.0C1046.9 1054.9 1048.8 1065.0 1051.2 1072.5C1053.8 1080.0 1057.3 1087.5 1060.0 1095.0C1062.7 1102.5 1065.0 1111.7 1067.5 1117.5C1070.0 1123.3 1072.5 1130.0 1075.0 1130.0C1077.5 1130.0 1079.8 1123.3 1082.5 1117.5C1085.2 1111.7 1088.3 1107.9 1091.2 1095.0C1094.2 1082.1 1097.3 1056.7 1100.0 1040.0C1102.7 1023.3 1105.0 1005.8 1107.5 995.0C1110.0 984.2 1112.5 979.1 1115.0 975.0C1117.5 970.9 1119.6 970.1 1122.5 970.5C1125.4 970.9 1128.8 973.0 1132.5 977.5C1136.2 982.0 1140.4 989.6 1145.0 997.5C1149.6 1005.4 1155.4 1016.9 1160.0 1025.0C1164.6 1033.1 1169.2 1041.5 1172.5 1046.2C1175.8 1051.0 1177.1 1054.4 1180.0 1053.8C1182.9 1053.1 1186.7 1045.3 1190.0 1042.5C1193.3 1039.7 1196.7 1036.8 1200.0 1037.0C1203.3 1037.2 1206.7 1041.5 1210.0 1043.8C1213.3 1046.0 1217.1 1051.0 1220.0 1050.8C1222.9 1050.5 1224.6 1048.0 1227.5 1042.5C1230.4 1037.0 1233.8 1026.2 1237.5 1017.5C1241.2 1008.8 1245.8 1000.8 1250.0 990.0C1254.2 979.2 1258.3 965.8 1262.5 952.5C1266.7 939.2 1270.8 922.9 1275.0 910.0C1279.2 897.1 1283.8 884.2 1287.5 875.0C1291.2 865.8 1294.2 859.0 1297.5 855.0C1300.8 851.0 1304.2 852.4 1307.5 851.2C1310.8 850.1 1314.4 848.7 1317.5 848.0C1320.6 847.3 1323.3 845.8 1326.2 847.0C1329.2 848.2 1331.9 848.7 1335.0 855.0C1338.1 861.3 1342.1 872.9 1345.0 885.0C1347.9 897.1 1350.2 912.1 1352.5 927.5C1354.8 942.9 1356.7 958.8 1358.8 977.5C1360.8 996.2 1363.1 1020.4 1365.0 1040.0C1366.9 1059.6 1368.3 1082.5 1370.0 1095.0C1371.7 1107.5 1373.8 1110.6 1375.0 1115.0C1376.2 1119.4 1376.7 1121.2 1377.5 1121.2C1378.3 1121.2 1378.8 1119.4 1380.0 1115.0C1381.2 1110.6 1383.8 1112.3 1385.0 1095.0C1386.2 1077.7 1386.0 1038.5 1387.5 1011.0C1389.0 983.5 1392.0 957.1 1394.3 930.0C1396.5 902.9 1398.8 872.0 1401.0 848.5C1403.2 825.0 1405.8 802.4 1407.8 789.0C1409.8 775.6 1411.5 772.2 1413.0 768.0C1414.5 763.8 1415.5 763.5 1416.8 764.0C1418.1 764.5 1419.1 765.5 1420.8 771.0C1422.5 776.5 1425.1 788.5 1426.8 797.0C1428.5 805.5 1429.6 813.4 1431.0 822.0C1432.4 830.6 1433.0 832.8 1435.0 848.5C1437.0 864.2 1440.5 893.4 1443.0 916.0C1445.5 938.6 1447.7 963.6 1450.0 984.0C1452.3 1004.4 1454.5 1022.7 1456.7 1038.5C1459.0 1054.3 1461.3 1067.2 1463.5 1079.0C1465.7 1090.8 1467.1 1099.5 1470.0 1109.0C1472.9 1118.5 1476.9 1129.2 1481.0 1136.0C1485.1 1142.8 1490.4 1146.0 1494.7 1150.0C1499.0 1154.0 1503.4 1160.5 1507.0 1160.0C1510.6 1159.5 1513.7 1156.0 1516.4 1147.0C1519.1 1138.0 1520.7 1124.1 1523.0 1106.0C1525.3 1087.9 1527.7 1063.3 1530.0 1038.5C1532.3 1013.7 1534.5 981.9 1536.7 957.0C1539.0 932.1 1541.0 909.3 1543.5 889.0C1546.0 868.7 1548.8 849.5 1551.7 835.0C1554.6 820.5 1557.8 808.5 1561.0 802.0C1564.2 795.5 1567.2 795.2 1570.7 796.0C1574.2 796.8 1579.9 805.2 1581.8 807.0"/>
</g>
<g stroke="#7a7a7a" fill="none">
<rect x="965.5" y="699.5" width="616.25" height="540.5" stroke-width="3.2"/>
<line x1="1005.8" y1="1240" x2="1005.8" y2="1232.5" stroke-width="3"/>
<line x1="1108.2" y1="1240" x2="1108.2" y2="1232.5" stroke-width="3"/>
<line x1="1210.8" y1="1240" x2="1210.8" y2="1232.5" stroke-width="3"/>
<line x1="1313.2" y1="1240" x2="1313.2" y2="1232.5" stroke-width="3"/>
<line x1="1415.8" y1="1240" x2="1415.8" y2="1232.5" stroke-width="3"/>
<line x1="1518.2" y1="1240" x2="1518.2" y2="1232.5" stroke-width="3"/>
<line x1="1057.0" y1="1240" x2="1057.0" y2="1236" stroke-width="3"/>
<line x1="1159.5" y1="1240" x2="1159.5" y2="1236" stroke-width="3"/>
<line x1="1262.0" y1="1240" x2="1262.0" y2="1236" stroke-width="3"/>
<line x1="1364.5" y1="1240" x2="1364.5" y2="1236" stroke-width="3"/>
<line x1="1467.0" y1="1240" x2="1467.0" y2="1236" stroke-width="3"/>
<line x1="1569.5" y1="1240" x2="1569.5" y2="1236" stroke-width="3"/>
</g>
<g fill="#2a2a2a" font-size="33" text-anchor="middle">
<text transform="translate(1007.0,1276.5) scale(1,1.04)">1000</text>
<text transform="translate(1109.5,1276.5) scale(1,1.04)">1050</text>
<text transform="translate(1212.0,1276.5) scale(1,1.04)">1100</text>
<text transform="translate(1314.5,1276.5) scale(1,1.04)">1150</text>
<text transform="translate(1417.0,1276.5) scale(1,1.04)">1200</text>
<text transform="translate(1519.5,1276.5) scale(1,1.04)">1250</text>
</g>
<text transform="translate(1272.5,1338.5) scale(1,1.04)" font-size="51.4" text-anchor="middle" fill="#1c1c1c">Wavenumber (cm<tspan font-size="34" dy="-22">-1</tspan><tspan dy="22">)</tspan></text>
<text transform="translate(921.5,969.2) rotate(-90) scale(1,1.04)" font-size="51.5" text-anchor="middle" fill="#1c1c1c">Transmittance (a.u.)</text>
<g stroke-width="7.5" fill="none">
<line x1="1609" y1="860.75" x2="1749" y2="860.75" stroke="#595959"/>
<line x1="1609" y1="937" x2="1749" y2="937" stroke="#f03c3c"/>
<line x1="1609" y1="1013.25" x2="1749" y2="1013.25" stroke="#00ff00"/>
<line x1="1609" y1="1089.5" x2="1749" y2="1089.5" stroke="#0000ff"/>
<line x1="1609" y1="1165.75" x2="1749" y2="1165.75" stroke="#ff8000"/>
</g>
<g fill="#161616" font-size="59.7">
<text transform="translate(1761.3,880.55) scale(1,1.04)">0%</text>
<text transform="translate(1761.3,956.8) scale(1,1.04)">10%</text>
<text transform="translate(1761.3,1033.05) scale(1,1.04)">100%</text>
<text transform="translate(1761.3,1109.3) scale(1,1.04)">Sterile</text>
<text transform="translate(1761.3,1185.55) scale(1,1.04)">Unimmersed</text>
</g>
</g>
</svg></body></html>
